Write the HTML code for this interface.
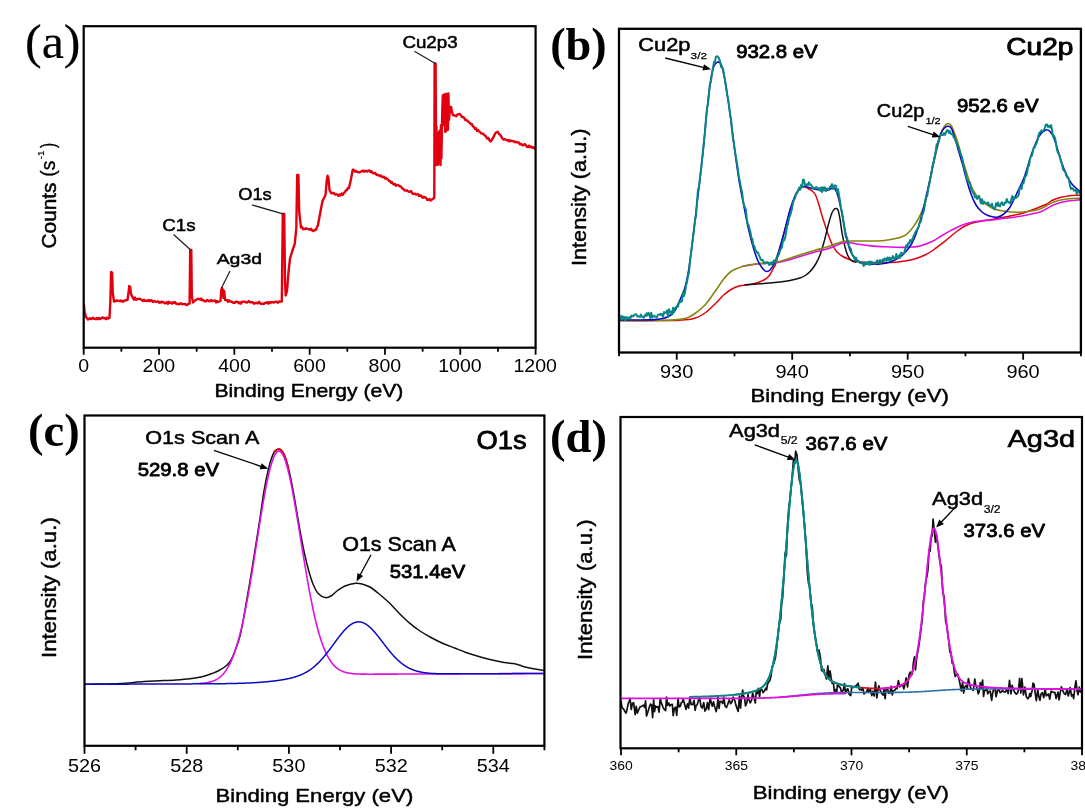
<!DOCTYPE html><html><head><meta charset="utf-8"><style>html,body{margin:0;padding:0;background:#fff;}svg{display:block;}</style></head><body>
<svg width="1085" height="810" viewBox="0 0 1085 810">
<rect width="1085" height="810" fill="#fff"/>
<defs><filter id="soft" x="0" y="0" width="1" height="1" color-interpolation-filters="sRGB"><feGaussianBlur stdDeviation="0.35"/></filter></defs>
<g filter="url(#soft)">
<rect width="1085" height="810" fill="#fff"/>
<path d="M84.00,305.00 L84.60,312.00 L86.00,317.00 L88.00,319.50 L89.00,318.83 L90.00,318.16 L91.00,319.11 L92.00,318.50 L93.00,317.65 L94.00,318.94 L95.00,318.70 L96.00,319.20 L97.00,318.09 L98.00,319.12 L99.00,317.94 L100.00,319.00 L101.00,318.67 L102.00,317.62 L103.00,317.49 L104.00,318.30 L105.00,318.19 L106.00,319.23 L107.00,317.62 L108.00,318.60 L109.50,318.00 L110.40,300.00 L111.10,272.00 L112.10,272.50 L112.80,293.00 L114.00,301.50 L117.00,300.50 L120.00,301.20 L121.00,300.39 L122.00,301.21 L123.00,301.82 L124.00,300.60 L125.17,300.59 L126.33,299.95 L127.50,300.00 L128.60,292.00 L129.30,286.00 L130.20,287.00 L131.00,294.00 L133.00,298.00 L134.00,299.47 L135.00,297.56 L136.00,299.84 L137.00,299.30 L138.00,298.98 L139.00,298.81 L140.00,298.92 L141.00,299.56 L142.00,300.20 L143.00,301.08 L144.00,299.68 L145.00,300.77 L146.00,301.03 L147.00,300.52 L148.00,301.06 L149.00,300.03 L150.00,301.20 L151.00,300.22 L152.00,300.65 L153.00,301.87 L154.00,301.35 L155.00,301.15 L156.00,301.89 L157.00,301.65 L158.00,301.36 L159.00,302.63 L160.00,302.00 L161.00,302.56 L162.00,301.55 L163.00,302.42 L164.00,302.38 L165.00,303.30 L166.00,303.03 L167.00,302.05 L168.00,303.79 L169.00,301.80 L170.00,302.80 L171.00,302.68 L172.00,303.58 L173.00,302.20 L174.00,303.09 L175.00,302.09 L176.00,303.68 L177.00,303.99 L178.00,303.62 L179.00,304.42 L180.00,303.60 L181.00,303.23 L182.00,304.22 L183.00,304.05 L184.00,304.09 L185.00,303.87 L186.00,304.87 L187.00,305.19 L188.00,304.20 L189.60,303.50 L190.20,250.00 L191.30,250.00 L191.80,296.00 L193.00,302.50 L195.00,300.50 L198.00,298.70 L199.00,298.90 L200.00,299.61 L201.00,298.43 L202.00,300.22 L203.00,300.00 L204.00,300.50 L205.00,301.47 L206.00,301.20 L207.00,300.05 L208.00,300.44 L209.00,301.26 L210.00,301.00 L211.00,299.98 L212.00,301.16 L213.00,300.58 L214.00,300.58 L215.00,300.57 L216.00,302.39 L217.00,300.99 L218.00,302.00 L220.50,301.00 L221.30,290.00 L222.00,288.00 L222.80,290.00 L223.40,298.00 L224.20,291.00 L225.00,300.00 L226.00,299.69 L227.00,300.34 L228.00,301.79 L229.00,300.19 L230.00,301.50 L231.00,301.48 L232.00,301.82 L233.00,302.72 L234.00,302.67 L235.00,302.87 L236.00,301.57 L237.00,302.00 L238.00,301.96 L239.00,303.32 L240.00,302.50 L241.00,303.58 L242.00,301.62 L243.00,301.66 L244.00,301.78 L245.00,301.76 L246.00,302.34 L247.00,302.57 L248.00,301.77 L249.00,301.13 L250.00,302.30 L251.00,302.18 L252.00,302.13 L253.00,302.67 L254.00,303.67 L255.00,303.11 L256.00,302.76 L257.00,303.07 L258.00,303.28 L259.00,301.86 L260.00,303.00 L261.00,303.98 L262.00,303.71 L263.00,303.96 L264.00,303.79 L265.00,302.84 L266.00,302.88 L267.00,302.19 L268.00,303.48 L269.00,302.13 L270.00,303.20 L271.00,302.11 L272.00,302.40 L273.00,302.24 L274.00,302.62 L275.00,301.88 L276.00,301.70 L277.00,302.01 L278.00,302.80 L279.27,301.41 L280.53,301.61 L281.80,301.50 L282.80,214.00 L284.20,214.00 L285.00,282.00 L285.70,295.50 L287.00,291.00 L288.50,272.00 L290.00,258.50 L292.00,252.00 L294.80,243.70 L296.30,228.00 L297.20,175.00 L298.40,175.00 L299.20,212.00 L301.00,227.60 L302.00,226.81 L303.00,229.20 L304.00,228.92 L305.00,229.00 L306.00,228.30 L307.00,228.69 L308.00,229.05 L309.00,229.23 L310.00,229.70 L311.16,228.85 L312.32,230.66 L313.48,231.06 L314.64,229.86 L315.80,230.00 L318.00,225.00 L320.00,214.00 L322.50,201.00 L325.50,195.00 L326.80,180.00 L327.60,175.80 L328.40,178.00 L329.50,190.00 L331.00,193.00 L332.00,193.34 L333.00,192.76 L334.00,193.17 L335.00,194.50 L336.10,194.32 L337.20,194.34 L338.30,195.89 L339.40,194.49 L340.50,195.50 L341.62,193.48 L342.75,194.83 L343.88,192.94 L345.00,192.00 L346.00,190.15 L347.00,190.10 L348.00,187.86 L349.00,188.00 L351.00,179.00 L352.80,169.60 L354.03,170.13 L355.27,171.68 L356.50,171.00 L357.67,172.27 L358.83,172.27 L360.00,172.20 L361.00,171.35 L362.00,171.32 L363.00,170.56 L364.00,171.73 L365.00,170.80 L366.07,170.94 L367.13,171.60 L368.20,170.59 L369.27,170.40 L370.33,171.88 L371.40,171.20 L372.60,172.96 L373.80,173.25 L375.00,173.00 L376.27,174.40 L377.53,175.10 L378.80,175.00 L379.83,176.16 L380.87,175.51 L381.90,176.79 L382.93,176.99 L383.97,176.79 L385.00,178.50 L386.00,177.87 L387.00,178.97 L388.00,179.42 L389.00,180.96 L390.00,181.00 L391.00,182.70 L392.00,182.07 L393.00,183.85 L394.00,184.57 L395.00,184.00 L396.06,185.72 L397.12,184.93 L398.19,185.20 L399.25,185.84 L400.31,186.40 L401.38,187.04 L402.44,188.67 L403.50,189.00 L404.58,190.39 L405.67,190.68 L406.75,190.25 L407.83,191.10 L408.92,191.89 L410.00,191.60 L411.00,191.02 L412.00,192.83 L413.00,193.84 L414.00,193.96 L415.00,193.70 L416.00,194.66 L417.00,194.37 L418.00,194.01 L419.00,195.83 L420.00,195.50 L421.00,195.50 L422.00,197.02 L423.00,197.83 L424.00,196.85 L425.00,197.50 L426.12,197.86 L427.24,199.77 L428.36,199.84 L429.48,199.11 L430.60,200.50 L433.40,198.50 L434.30,198.00 L434.60,63.50 L435.60,63.50 L435.90,120.00 L436.00,164.98 L436.45,126.51 L436.90,158.76 L437.35,133.07 L437.80,164.83 L438.25,133.27 L438.70,158.16 L439.15,131.57 L439.60,163.20 L440.05,130.49 L440.50,164.95 L440.95,125.14 L441.40,158.23 L441.85,131.50 L442.30,110.00 L442.80,96.00 L443.00,95.11 L443.45,124.66 L443.90,94.74 L444.35,125.28 L444.80,96.30 L445.25,131.89 L445.70,94.01 L446.15,131.07 L446.60,93.96 L447.05,128.14 L447.50,94.04 L447.95,129.81 L448.40,93.52 L449.00,120.00 L450.00,109.00 L451.00,106.80 L452.00,112.00 L453.00,115.00 L455.00,115.60 L456.20,116.27 L457.40,114.42 L458.60,114.29 L459.80,114.00 L460.87,115.22 L461.93,117.05 L463.00,117.00 L464.13,117.79 L465.27,120.09 L466.40,120.00 L467.60,121.00 L468.80,122.08 L470.00,123.00 L471.00,124.26 L472.00,124.15 L473.00,126.44 L474.00,126.98 L475.00,129.00 L476.00,128.31 L477.00,130.98 L478.00,129.95 L479.00,131.33 L480.00,132.00 L481.00,133.29 L482.00,133.55 L483.00,133.65 L484.00,134.85 L485.00,135.50 L486.14,136.84 L487.28,138.64 L488.42,138.08 L489.56,140.46 L490.70,141.50 L493.00,138.00 L495.50,133.00 L497.60,131.70 L499.00,134.00 L500.17,134.88 L501.33,136.49 L502.50,138.60 L503.60,139.59 L504.70,139.18 L505.80,139.60 L506.90,140.40 L508.00,140.00 L509.00,141.31 L510.00,140.33 L511.00,141.01 L512.00,140.97 L513.00,141.20 L514.00,141.49 L515.00,142.22 L516.00,141.86 L517.00,142.33 L518.00,142.50 L519.00,142.78 L520.00,144.31 L521.00,144.02 L522.00,144.81 L523.00,145.32 L524.00,144.50 L525.00,144.29 L526.00,145.49 L527.00,146.90 L528.00,147.05 L529.00,145.64 L530.00,147.00 L531.00,146.42 L532.00,147.65 L533.00,147.09 L534.00,147.93 L535.00,149.00" fill="none" stroke="#e2000e" stroke-width="2.40" stroke-linejoin="round" stroke-linecap="round"/>
<rect x="83.70" y="26.20" width="451.90" height="321.50" fill="none" stroke="#000" stroke-width="2.20"/>
<line x1="83.70" y1="347.70" x2="83.70" y2="354.70" stroke="#000" stroke-width="1.80"/>
<line x1="159.02" y1="347.70" x2="159.02" y2="354.70" stroke="#000" stroke-width="1.80"/>
<line x1="234.33" y1="347.70" x2="234.33" y2="354.70" stroke="#000" stroke-width="1.80"/>
<line x1="309.65" y1="347.70" x2="309.65" y2="354.70" stroke="#000" stroke-width="1.80"/>
<line x1="384.97" y1="347.70" x2="384.97" y2="354.70" stroke="#000" stroke-width="1.80"/>
<line x1="460.28" y1="347.70" x2="460.28" y2="354.70" stroke="#000" stroke-width="1.80"/>
<line x1="535.60" y1="347.70" x2="535.60" y2="354.70" stroke="#000" stroke-width="1.80"/>
<line x1="121.36" y1="347.70" x2="121.36" y2="351.70" stroke="#000" stroke-width="1.80"/>
<line x1="196.68" y1="347.70" x2="196.68" y2="351.70" stroke="#000" stroke-width="1.80"/>
<line x1="271.99" y1="347.70" x2="271.99" y2="351.70" stroke="#000" stroke-width="1.80"/>
<line x1="347.31" y1="347.70" x2="347.31" y2="351.70" stroke="#000" stroke-width="1.80"/>
<line x1="422.63" y1="347.70" x2="422.63" y2="351.70" stroke="#000" stroke-width="1.80"/>
<line x1="497.94" y1="347.70" x2="497.94" y2="351.70" stroke="#000" stroke-width="1.80"/>
<line x1="414.40" y1="51.20" x2="435.30" y2="63.50" stroke="#222" stroke-width="1.30"/>
<line x1="252.00" y1="204.90" x2="283.80" y2="214.10" stroke="#222" stroke-width="1.30"/>
<line x1="173.60" y1="234.50" x2="190.70" y2="250.10" stroke="#222" stroke-width="1.30"/>
<line x1="230.00" y1="271.00" x2="221.50" y2="288.00" stroke="#222" stroke-width="1.30"/>
<defs><clipPath id="cb"><rect x="619.0" y="28.8" width="461.9" height="323.7"/></clipPath></defs>
<g clip-path="url(#cb)">
<path d="M619.50,320.60 C626.25,320.60 649.92,320.67 660.00,320.60 C670.08,320.53 674.33,320.55 680.00,320.20 C685.67,319.85 689.83,319.70 694.00,318.50 C698.17,317.30 701.33,315.58 705.00,313.00 C708.67,310.42 712.83,306.03 716.00,303.00 C719.17,299.97 721.50,297.05 724.00,294.80 C726.50,292.55 728.33,291.00 731.00,289.50 C733.67,288.00 736.90,286.65 740.00,285.80 C743.10,284.95 746.60,284.95 749.60,284.40 C752.60,283.85 755.60,283.23 758.00,282.50 C760.40,281.77 762.17,281.08 764.00,280.00 C765.83,278.92 767.50,277.83 769.00,276.00 C770.50,274.17 771.83,271.17 773.00,269.00 C774.17,266.83 774.83,266.50 776.00,263.00 C777.17,259.50 778.50,253.58 780.00,248.00 C781.50,242.42 783.33,235.75 785.00,229.50 C786.67,223.25 788.33,216.00 790.00,210.50 C791.67,205.00 793.50,200.08 795.00,196.50 C796.50,192.92 797.67,190.67 799.00,189.00 C800.33,187.33 801.50,186.58 803.00,186.50 C804.50,186.42 806.50,187.75 808.00,188.50 C809.50,189.25 810.75,189.92 812.00,191.00 C813.25,192.08 814.33,192.67 815.50,195.00 C816.67,197.33 817.88,201.45 819.00,205.00 C820.12,208.55 821.03,212.47 822.20,216.30 C823.37,220.13 824.77,224.30 826.00,228.00 C827.23,231.70 828.43,235.50 829.60,238.50 C830.77,241.50 831.77,243.77 833.00,246.00 C834.23,248.23 835.50,250.23 837.00,251.90 C838.50,253.57 840.02,254.77 842.00,256.00 C843.98,257.23 846.52,258.37 848.90,259.30 C851.28,260.23 852.78,261.07 856.30,261.60 C859.82,262.13 865.00,262.30 870.00,262.50 C875.00,262.70 880.47,263.05 886.30,262.80 C892.13,262.55 899.88,261.77 905.00,261.00 C910.12,260.23 913.67,259.20 917.00,258.20 C920.33,257.20 922.40,256.28 925.00,255.00 C927.60,253.72 929.27,252.80 932.60,250.50 C935.93,248.20 940.88,244.45 945.00,241.20 C949.12,237.95 953.97,233.53 957.30,231.00 C960.63,228.47 962.43,227.33 965.00,226.00 C967.57,224.67 969.37,223.92 972.70,223.00 C976.03,222.08 981.40,221.17 985.00,220.50 C988.60,219.83 990.13,219.75 994.30,219.00 C998.47,218.25 1004.88,217.08 1010.00,216.00 C1015.12,214.92 1019.13,214.37 1025.00,212.50 C1030.87,210.63 1040.70,206.80 1045.20,204.80 C1049.70,202.80 1049.53,201.73 1052.00,200.50 C1054.47,199.27 1056.68,198.25 1060.00,197.40 C1063.32,196.55 1068.45,195.77 1071.90,195.40 C1075.35,195.03 1079.23,195.23 1080.70,195.20" fill="none" stroke="#e2000e" stroke-width="1.50" stroke-linejoin="round" stroke-linecap="round"/>
<path d="M745.00,284.80 C747.50,284.63 755.00,284.18 760.00,283.80 C765.00,283.42 770.00,283.05 775.00,282.50 C780.00,281.95 785.83,281.25 790.00,280.50 C794.17,279.75 797.33,278.92 800.00,278.00 C802.67,277.08 804.17,276.25 806.00,275.00 C807.83,273.75 809.33,272.42 811.00,270.50 C812.67,268.58 814.50,266.08 816.00,263.50 C817.50,260.92 818.67,258.58 820.00,255.00 C821.33,251.42 822.67,246.83 824.00,242.00 C825.33,237.17 826.75,230.67 828.00,226.00 C829.25,221.33 830.50,216.75 831.50,214.00 C832.50,211.25 833.25,210.42 834.00,209.50 C834.75,208.58 835.33,208.42 836.00,208.50 C836.67,208.58 837.33,208.25 838.00,210.00 C838.67,211.75 839.33,215.23 840.00,219.00 C840.67,222.77 841.17,227.93 842.00,232.60 C842.83,237.27 844.00,243.10 845.00,247.00 C846.00,250.90 846.83,253.67 848.00,256.00 C849.17,258.33 850.67,260.00 852.00,261.00 C853.33,262.00 855.33,261.83 856.00,262.00" fill="none" stroke="#111" stroke-width="1.50" stroke-linejoin="round" stroke-linecap="round"/>
<path d="M742.00,266.50 C744.50,266.08 752.67,264.55 757.00,264.00 C761.33,263.45 764.33,263.48 768.00,263.20 C771.67,262.92 775.00,263.00 779.00,262.30 C783.00,261.60 787.67,260.22 792.00,259.00 C796.33,257.78 801.17,256.17 805.00,255.00 C808.83,253.83 811.33,253.00 815.00,252.00 C818.67,251.00 823.50,250.08 827.00,249.00 C830.50,247.92 833.33,246.50 836.00,245.50 C838.67,244.50 840.67,243.45 843.00,243.00 C845.33,242.55 847.17,242.55 850.00,242.80 C852.83,243.05 856.52,243.98 860.00,244.50 C863.48,245.02 866.73,245.52 870.90,245.90 C875.07,246.28 879.87,246.55 885.00,246.80 C890.13,247.05 897.20,247.37 901.70,247.40 C906.20,247.43 908.95,247.25 912.00,247.00 C915.05,246.75 916.57,246.87 920.00,245.90 C923.43,244.93 928.93,242.93 932.60,241.20 C936.27,239.47 938.93,237.30 942.00,235.50 C945.07,233.70 948.00,231.98 951.00,230.40 C954.00,228.82 956.90,227.28 960.00,226.00 C963.10,224.72 966.27,223.53 969.60,222.70 C972.93,221.87 975.88,221.52 980.00,221.00 C984.12,220.48 988.13,220.32 994.30,219.60 C1000.47,218.88 1011.22,217.55 1017.00,216.70 C1022.78,215.85 1025.28,215.25 1029.00,214.50 C1032.72,213.75 1036.30,213.20 1039.30,212.20 C1042.30,211.20 1044.55,209.73 1047.00,208.50 C1049.45,207.27 1051.00,205.97 1054.00,204.80 C1057.00,203.63 1060.55,202.37 1065.00,201.50 C1069.45,200.63 1078.08,199.92 1080.70,199.60" fill="none" stroke="#e010e0" stroke-width="1.60" stroke-linejoin="round" stroke-linecap="round"/>
<path d="M619.50,320.60 C626.25,320.58 650.75,320.63 660.00,320.50 C669.25,320.37 670.55,320.22 675.00,319.80 C679.45,319.38 683.37,319.05 686.70,318.00 C690.03,316.95 691.95,315.67 695.00,313.50 C698.05,311.33 701.83,308.42 705.00,305.00 C708.17,301.58 710.88,297.33 714.00,293.00 C717.12,288.67 720.87,282.58 723.70,279.00 C726.53,275.42 728.53,273.33 731.00,271.50 C733.47,269.67 735.83,269.03 738.50,268.00 C741.17,266.97 743.92,266.02 747.00,265.30 C750.08,264.58 753.50,264.08 757.00,263.70 C760.50,263.32 764.33,263.37 768.00,263.00 C771.67,262.63 775.00,262.42 779.00,261.50 C783.00,260.58 787.67,258.88 792.00,257.50 C796.33,256.12 801.17,254.42 805.00,253.20 C808.83,251.98 811.33,251.23 815.00,250.20 C818.67,249.17 823.67,248.03 827.00,247.00 C830.33,245.97 832.33,244.92 835.00,244.00 C837.67,243.08 840.33,242.00 843.00,241.50 C845.67,241.00 848.17,241.08 851.00,241.00 C853.83,240.92 856.68,241.00 860.00,241.00 C863.32,241.00 866.90,241.08 870.90,241.00 C874.90,240.92 879.88,240.92 884.00,240.50 C888.12,240.08 892.27,239.25 895.60,238.50 C898.93,237.75 901.77,237.08 904.00,236.00 C906.23,234.92 907.40,233.60 909.00,232.00 C910.60,230.40 911.97,228.73 913.60,226.40 C915.23,224.07 917.40,220.57 918.80,218.00 C920.20,215.43 920.88,213.67 922.00,211.00 C923.12,208.33 924.28,206.50 925.50,202.00 C926.72,197.50 927.97,190.42 929.30,184.00 C930.63,177.58 931.92,170.50 933.50,163.50 C935.08,156.50 937.38,147.42 938.80,142.00 C940.22,136.58 940.97,133.75 942.00,131.00 C943.03,128.25 943.97,126.75 945.00,125.50 C946.03,124.25 947.12,123.42 948.20,123.50 C949.28,123.58 950.37,124.17 951.50,126.00 C952.63,127.83 954.03,132.00 955.00,134.50 C955.97,137.00 956.13,137.17 957.30,141.00 C958.47,144.83 960.47,152.25 962.00,157.50 C963.53,162.75 965.00,167.83 966.50,172.50 C968.00,177.17 969.45,181.83 971.00,185.50 C972.55,189.17 974.13,192.00 975.80,194.50 C977.47,197.00 978.97,198.67 981.00,200.50 C983.03,202.33 985.83,204.08 988.00,205.50 C990.17,206.92 991.17,208.05 994.00,209.00 C996.83,209.95 1001.17,210.67 1005.00,211.20 C1008.83,211.73 1013.17,212.15 1017.00,212.20 C1020.83,212.25 1024.28,211.98 1028.00,211.50 C1031.72,211.02 1036.13,210.30 1039.30,209.30 C1042.47,208.30 1044.55,206.73 1047.00,205.50 C1049.45,204.27 1051.00,202.93 1054.00,201.90 C1057.00,200.87 1060.55,199.93 1065.00,199.30 C1069.45,198.67 1078.08,198.30 1080.70,198.10" fill="none" stroke="#85850f" stroke-width="1.60" stroke-linejoin="round" stroke-linecap="round"/>
<path d="M619.50,320.00 C622.92,320.00 634.08,320.07 640.00,320.00 C645.92,319.93 651.00,319.88 655.00,319.60 C659.00,319.32 661.50,318.98 664.00,318.30 C666.50,317.62 668.17,316.80 670.00,315.50 C671.83,314.20 673.42,312.92 675.00,310.50 C676.58,308.08 678.25,303.75 679.50,301.00 C680.75,298.25 681.58,296.25 682.50,294.00 C683.42,291.75 684.08,290.83 685.00,287.50 C685.92,284.17 687.00,279.75 688.00,274.00 C689.00,268.25 690.00,260.50 691.00,253.00 C692.00,245.50 692.67,240.00 694.00,229.00 C695.33,218.00 697.50,199.83 699.00,187.00 C700.50,174.17 701.67,164.83 703.00,152.00 C704.33,139.17 705.72,122.00 707.00,110.00 C708.28,98.00 709.53,87.33 710.70,80.00 C711.87,72.67 712.87,69.00 714.00,66.00 C715.13,63.00 716.33,62.33 717.50,62.00 C718.67,61.67 719.92,61.83 721.00,64.00 C722.08,66.17 722.93,69.75 724.00,75.00 C725.07,80.25 726.23,87.83 727.40,95.50 C728.57,103.17 729.77,111.75 731.00,121.00 C732.23,130.25 733.47,141.17 734.80,151.00 C736.13,160.83 737.47,170.72 739.00,180.00 C740.53,189.28 742.42,198.53 744.00,206.70 C745.58,214.87 746.95,222.22 748.50,229.00 C750.05,235.78 751.72,242.07 753.30,247.40 C754.88,252.73 756.45,257.48 758.00,261.00 C759.55,264.52 761.22,266.75 762.60,268.50 C763.98,270.25 765.07,271.25 766.30,271.50 C767.53,271.75 768.55,271.58 770.00,270.00 C771.45,268.42 773.33,265.83 775.00,262.00 C776.67,258.17 778.33,252.50 780.00,247.00 C781.67,241.50 783.33,235.17 785.00,229.00 C786.67,222.83 788.33,215.50 790.00,210.00 C791.67,204.50 793.33,199.58 795.00,196.00 C796.67,192.42 798.33,190.08 800.00,188.50 C801.67,186.92 803.00,186.50 805.00,186.50 C807.00,186.50 809.50,187.92 812.00,188.50 C814.50,189.08 817.33,189.75 820.00,190.00 C822.67,190.25 825.67,190.33 828.00,190.00 C830.33,189.67 832.33,187.00 834.00,188.00 C835.67,189.00 836.67,191.67 838.00,196.00 C839.33,200.33 840.67,207.50 842.00,214.00 C843.33,220.50 844.67,229.00 846.00,235.00 C847.33,241.00 848.50,246.08 850.00,250.00 C851.50,253.92 853.17,256.37 855.00,258.50 C856.83,260.63 858.50,261.88 861.00,262.80 C863.50,263.72 866.83,263.80 870.00,264.00 C873.17,264.20 876.67,264.33 880.00,264.00 C883.33,263.67 886.67,263.17 890.00,262.00 C893.33,260.83 897.33,258.75 900.00,257.00 C902.67,255.25 904.08,253.67 906.00,251.50 C907.92,249.33 909.83,246.92 911.50,244.00 C913.17,241.08 914.75,237.17 916.00,234.00 C917.25,230.83 918.00,228.33 919.00,225.00 C920.00,221.67 920.98,218.00 922.00,214.00 C923.02,210.00 923.88,206.25 925.10,201.00 C926.32,195.75 927.90,189.00 929.30,182.50 C930.70,176.00 932.10,168.58 933.50,162.00 C934.90,155.42 936.45,147.83 937.70,143.00 C938.95,138.17 939.95,135.42 941.00,133.00 C942.05,130.58 942.90,129.63 944.00,128.50 C945.10,127.37 946.27,126.03 947.60,126.20 C948.93,126.37 950.13,125.25 952.00,129.50 C953.87,133.75 956.97,145.62 958.80,151.70 C960.63,157.78 961.72,161.37 963.00,166.00 C964.28,170.63 965.17,174.83 966.50,179.50 C967.83,184.17 969.42,189.75 971.00,194.00 C972.58,198.25 974.17,202.00 976.00,205.00 C977.83,208.00 980.00,210.25 982.00,212.00 C984.00,213.75 986.00,214.67 988.00,215.50 C990.00,216.33 992.43,216.72 994.00,217.00 C995.57,217.28 995.90,217.62 997.40,217.20 C998.90,216.78 1000.97,216.07 1003.00,214.50 C1005.03,212.93 1007.27,211.38 1009.60,207.80 C1011.93,204.22 1014.53,198.18 1017.00,193.00 C1019.47,187.82 1021.92,183.37 1024.40,176.70 C1026.88,170.03 1029.42,159.80 1031.90,153.00 C1034.38,146.20 1036.97,139.73 1039.30,135.90 C1041.63,132.07 1044.12,130.73 1045.90,130.00 C1047.68,129.27 1048.65,130.15 1050.00,131.50 C1051.35,132.85 1052.33,133.78 1054.00,138.10 C1055.67,142.42 1058.02,151.47 1060.00,157.40 C1061.98,163.33 1063.92,169.27 1065.90,173.70 C1067.88,178.13 1069.43,180.92 1071.90,184.00 C1074.37,187.08 1079.23,190.83 1080.70,192.20" fill="none" stroke="#0a0ac4" stroke-width="1.60" stroke-linejoin="round" stroke-linecap="round"/>
<path d="M619.50,317.35 L620.43,319.18 L621.36,315.67 L622.30,318.73 L623.23,316.71 L624.16,316.69 L625.09,320.13 L626.02,317.32 L626.95,316.99 L627.89,318.20 L628.82,318.82 L629.75,316.95 L630.68,317.92 L631.61,315.41 L632.55,316.36 L633.48,316.23 L634.41,314.78 L635.34,314.48 L636.27,314.27 L637.20,316.47 L638.14,316.56 L639.07,316.31 L640.00,316.91 L640.94,314.61 L641.88,316.57 L642.81,317.03 L643.75,317.80 L644.69,315.20 L645.62,315.86 L646.56,313.23 L647.50,315.59 L648.44,312.84 L649.38,314.03 L650.31,318.01 L651.25,312.68 L652.19,317.43 L653.12,316.62 L654.06,315.55 L655.00,316.73 L655.90,316.74 L656.80,317.47 L657.70,315.33 L658.60,314.65 L659.50,314.53 L660.40,313.82 L661.30,315.23 L662.20,313.94 L663.10,316.81 L664.00,312.01 L665.00,312.88 L666.00,312.72 L667.00,310.53 L668.00,316.54 L669.00,309.27 L670.00,312.30 L671.00,311.53 L672.00,314.65 L673.00,307.82 L674.00,311.71 L675.00,307.83 L676.00,307.75 L677.00,305.93 L678.00,306.52 L679.00,302.18 L680.00,302.37 L681.00,301.57 L682.00,301.44 L683.00,292.15 L684.00,295.94 L685.00,292.52 L686.00,285.56 L687.00,282.15 L688.00,276.25 L689.00,271.97 L690.00,262.00 L691.00,253.66 L692.00,245.64 L693.00,237.68 L694.00,229.72 L695.00,219.99 L696.00,216.09 L697.00,201.14 L698.00,189.83 L699.00,186.80 L700.00,177.77 L701.00,169.60 L702.00,159.67 L703.00,150.76 L704.00,141.03 L705.00,131.55 L706.00,118.78 L707.00,108.40 L707.92,104.60 L708.85,94.85 L709.78,84.92 L710.70,82.72 L711.80,75.24 L712.90,68.06 L714.00,62.12 L715.00,61.48 L716.00,56.67 L717.50,56.31 L718.75,57.93 L720.00,61.19 L721.00,66.77 L722.00,67.31 L723.00,68.68 L724.00,75.07 L725.13,80.77 L726.27,88.68 L727.40,95.92 L728.30,100.48 L729.20,107.27 L730.10,114.18 L731.00,119.18 L731.95,129.32 L732.90,137.70 L733.85,143.03 L734.80,149.62 L735.85,156.58 L736.90,162.75 L737.95,169.71 L739.00,177.36 L740.00,182.05 L741.00,188.10 L742.00,191.68 L743.00,200.16 L744.00,205.08 L744.90,207.36 L745.80,209.72 L746.70,217.59 L747.60,223.57 L748.50,224.83 L749.46,228.83 L750.42,232.29 L751.38,237.85 L752.34,238.93 L753.30,245.58 L754.24,245.72 L755.18,249.88 L756.12,250.65 L757.06,252.43 L758.00,252.63 L758.92,255.10 L759.84,256.98 L760.76,259.66 L761.68,260.19 L762.60,259.89 L763.70,262.16 L764.80,263.58 L765.90,262.26 L767.00,262.30 L768.00,262.57 L769.00,264.70 L770.00,264.46 L771.00,262.31 L772.00,264.60 L773.00,262.03 L774.00,260.40 L775.00,262.38 L776.00,260.51 L777.00,256.84 L778.00,255.88 L779.00,254.30 L780.00,250.23 L781.00,248.81 L782.00,247.07 L783.00,240.14 L784.00,240.52 L785.00,238.18 L786.00,233.41 L787.00,226.05 L788.00,224.31 L789.00,218.02 L790.00,215.91 L791.00,212.37 L792.00,208.15 L793.00,202.98 L794.00,199.65 L795.00,198.37 L796.00,193.36 L797.00,193.39 L798.00,191.22 L799.00,187.75 L800.00,189.83 L801.00,185.11 L802.00,187.43 L803.00,179.77 L804.00,179.81 L805.00,185.37 L806.00,185.22 L807.00,184.10 L808.00,184.91 L809.00,182.38 L810.00,184.85 L811.00,184.63 L812.00,186.36 L813.00,188.56 L814.00,187.66 L815.00,188.59 L816.00,187.03 L817.00,187.59 L818.00,188.61 L819.00,188.12 L820.00,190.74 L821.00,187.46 L822.00,192.03 L823.00,187.31 L824.00,190.45 L825.00,187.39 L826.00,191.14 L827.00,188.59 L828.00,188.89 L829.00,189.32 L830.00,186.98 L831.00,186.00 L832.00,184.09 L833.00,188.95 L834.00,185.55 L835.00,185.39 L836.00,185.95 L837.00,192.18 L838.00,189.23 L839.00,195.40 L840.00,200.70 L841.00,208.52 L842.00,211.12 L843.00,218.61 L844.00,225.84 L845.00,232.24 L846.00,237.55 L847.00,237.38 L848.00,242.59 L849.00,246.07 L850.00,247.80 L851.00,249.40 L852.00,254.61 L853.00,255.49 L854.00,256.57 L855.00,260.45 L856.00,257.61 L857.00,260.78 L858.00,260.67 L859.00,261.27 L860.00,262.87 L861.00,263.08 L861.90,263.25 L862.80,263.26 L863.70,265.96 L864.60,262.38 L865.50,264.52 L866.40,263.89 L867.30,262.38 L868.20,264.23 L869.10,261.61 L870.00,264.86 L870.91,261.57 L871.82,261.94 L872.73,263.11 L873.64,263.79 L874.55,263.77 L875.45,263.61 L876.36,261.71 L877.27,260.38 L878.18,262.65 L879.09,262.12 L880.00,259.98 L880.91,262.88 L881.82,261.45 L882.73,259.42 L883.64,261.48 L884.55,258.47 L885.45,259.01 L886.36,260.87 L887.27,257.55 L888.18,259.92 L889.09,257.52 L890.00,260.68 L890.91,257.97 L891.82,259.06 L892.73,256.01 L893.64,257.49 L894.55,259.20 L895.45,258.05 L896.36,254.01 L897.27,258.07 L898.18,257.65 L899.09,255.26 L900.00,257.77 L900.91,252.74 L901.83,253.24 L902.74,254.09 L903.65,253.35 L904.56,252.24 L905.47,247.37 L906.39,245.21 L907.30,247.63 L908.25,243.04 L909.20,243.46 L910.15,239.95 L911.10,242.03 L912.05,239.95 L913.00,237.89 L913.97,235.19 L914.93,233.41 L915.90,231.02 L916.87,230.28 L917.83,228.23 L918.80,226.73 L919.87,221.65 L920.93,221.70 L922.00,215.45 L923.03,213.56 L924.07,209.80 L925.10,202.59 L926.15,196.30 L927.20,196.01 L928.25,188.38 L929.30,184.13 L930.35,178.34 L931.40,173.71 L932.45,166.35 L933.50,162.83 L934.55,157.26 L935.60,152.98 L936.65,144.26 L937.70,144.31 L938.80,141.20 L939.90,135.57 L941.00,134.83 L942.00,135.05 L943.00,135.01 L944.00,133.00 L945.00,134.84 L946.00,132.29 L947.00,130.27 L948.00,130.42 L948.94,132.99 L949.88,131.12 L950.82,133.75 L951.76,134.33 L952.70,133.94 L953.72,137.46 L954.73,138.39 L955.75,141.48 L956.77,143.39 L957.78,146.19 L958.80,147.50 L959.85,152.36 L960.90,154.79 L961.95,157.47 L963.00,163.23 L964.17,168.06 L965.33,171.12 L966.50,178.19 L967.40,179.91 L968.30,182.47 L969.20,182.23 L970.10,183.21 L971.00,188.89 L972.00,190.29 L973.00,192.76 L974.00,194.07 L975.00,197.22 L976.00,196.54 L977.00,198.90 L978.00,197.23 L979.00,195.81 L980.00,199.62 L981.00,203.56 L982.00,199.32 L983.00,203.96 L984.00,201.58 L985.00,202.36 L986.00,203.40 L987.00,204.01 L988.00,202.44 L989.00,204.45 L990.00,205.21 L991.00,206.09 L992.00,203.79 L993.00,207.73 L994.00,208.55 L995.00,209.36 L996.00,203.35 L997.00,205.78 L998.00,202.53 L999.00,206.11 L1000.00,206.39 L1000.96,203.30 L1001.92,202.24 L1002.88,204.72 L1003.84,205.06 L1004.80,202.43 L1005.76,202.92 L1006.72,198.94 L1007.68,201.49 L1008.64,202.50 L1009.60,202.14 L1010.52,203.70 L1011.45,198.60 L1012.38,196.08 L1013.30,199.67 L1014.23,197.27 L1015.15,197.93 L1016.08,197.89 L1017.00,196.96 L1017.92,196.26 L1018.85,194.06 L1019.78,187.19 L1020.70,187.70 L1021.62,188.95 L1022.55,183.05 L1023.48,183.20 L1024.40,179.51 L1025.34,175.78 L1026.28,175.83 L1027.21,171.82 L1028.15,166.61 L1029.09,165.30 L1030.03,158.60 L1030.96,156.39 L1031.90,155.84 L1032.83,151.87 L1033.75,147.53 L1034.67,147.36 L1035.60,144.58 L1036.53,143.52 L1037.45,140.41 L1038.38,135.85 L1039.30,132.93 L1040.40,132.00 L1041.50,130.38 L1042.60,131.61 L1043.70,130.34 L1044.80,128.07 L1045.90,124.61 L1046.94,124.37 L1047.98,126.96 L1049.02,125.72 L1050.06,127.42 L1051.10,125.13 L1052.08,130.32 L1053.07,136.50 L1054.05,135.76 L1055.03,138.21 L1056.02,143.54 L1057.00,149.67 L1058.00,153.04 L1059.00,153.86 L1060.00,157.39 L1061.00,161.69 L1062.00,164.09 L1063.00,169.36 L1063.98,170.79 L1064.97,170.87 L1065.95,174.27 L1066.93,176.76 L1067.92,177.76 L1068.90,179.31 L1069.90,185.01 L1070.90,189.07 L1071.90,188.04 L1072.88,188.48 L1073.86,190.61 L1074.83,190.10 L1075.81,189.87 L1076.79,194.00 L1077.77,190.77 L1078.74,191.92 L1079.72,192.68 L1080.70,194.40" fill="none" stroke="#0a8585" stroke-width="2.00" stroke-linejoin="round" stroke-linecap="round"/>
</g>
<rect x="619.00" y="28.80" width="461.90" height="323.70" fill="none" stroke="#000" stroke-width="2.30"/>
<line x1="676.74" y1="352.50" x2="676.74" y2="359.70" stroke="#000" stroke-width="1.80"/>
<line x1="792.21" y1="352.50" x2="792.21" y2="359.70" stroke="#000" stroke-width="1.80"/>
<line x1="907.69" y1="352.50" x2="907.69" y2="359.70" stroke="#000" stroke-width="1.80"/>
<line x1="1023.16" y1="352.50" x2="1023.16" y2="359.70" stroke="#000" stroke-width="1.80"/>
<line x1="619.00" y1="352.50" x2="619.00" y2="356.30" stroke="#000" stroke-width="1.80"/>
<line x1="734.48" y1="352.50" x2="734.48" y2="356.30" stroke="#000" stroke-width="1.80"/>
<line x1="849.95" y1="352.50" x2="849.95" y2="356.30" stroke="#000" stroke-width="1.80"/>
<line x1="965.43" y1="352.50" x2="965.43" y2="356.30" stroke="#000" stroke-width="1.80"/>
<line x1="1080.90" y1="352.50" x2="1080.90" y2="356.30" stroke="#000" stroke-width="1.80"/>
<line x1="665.20" y1="58.00" x2="704.20" y2="67.54" stroke="#000" stroke-width="1.30"/>
<path d="M711.00,69.20 L702.47,70.41 L703.99,64.19 Z" fill="#000"/>
<line x1="907.90" y1="126.40" x2="933.65" y2="134.82" stroke="#000" stroke-width="1.30"/>
<path d="M940.30,137.00 L931.70,137.55 L933.69,131.47 Z" fill="#000"/>
<defs><clipPath id="cc"><rect x="84.5" y="415.5" width="459.9" height="330.3"/></clipPath></defs>
<g clip-path="url(#cc)">
<path d="M84.50,684.20 C87.08,684.17 94.08,684.12 100.00,684.00 C105.92,683.88 112.67,683.92 120.00,683.50 C127.33,683.08 137.33,681.95 144.00,681.50 C150.67,681.05 154.67,681.05 160.00,680.80 C165.33,680.55 171.00,680.33 176.00,680.00 C181.00,679.67 185.67,679.33 190.00,678.80 C194.33,678.27 198.33,677.68 202.00,676.80 C205.67,675.92 209.33,674.47 212.00,673.50 C214.67,672.53 215.67,672.25 218.00,671.00 C220.33,669.75 223.87,667.75 226.00,666.00 C228.13,664.25 229.30,663.00 230.80,660.50 C232.30,658.00 233.38,655.42 235.00,651.00 C236.62,646.58 238.83,640.83 240.50,634.00 C242.17,627.17 243.42,618.83 245.00,610.00 C246.58,601.17 248.33,591.00 250.00,581.00 C251.67,571.00 253.38,560.13 255.00,550.00 C256.62,539.87 258.20,530.03 259.70,520.20 C261.20,510.37 262.40,500.08 264.00,491.00 C265.60,481.92 267.63,472.12 269.30,465.70 C270.97,459.28 272.38,455.23 274.00,452.50 C275.62,449.77 277.33,448.97 279.00,449.30 C280.67,449.63 282.40,451.23 284.00,454.50 C285.60,457.77 287.10,462.98 288.60,468.90 C290.10,474.82 291.40,481.45 293.00,490.00 C294.60,498.55 296.87,512.53 298.20,520.20 C299.53,527.87 299.93,530.37 301.00,536.00 C302.07,541.63 303.30,548.17 304.60,554.00 C305.90,559.83 307.40,566.00 308.80,571.00 C310.20,576.00 311.43,580.25 313.00,584.00 C314.57,587.75 316.15,591.23 318.20,593.50 C320.25,595.77 323.17,597.18 325.30,597.60 C327.43,598.02 329.05,597.10 331.00,596.00 C332.95,594.90 334.67,592.67 337.00,591.00 C339.33,589.33 341.87,587.30 345.00,586.00 C348.13,584.70 352.97,583.53 355.80,583.20 C358.63,582.87 359.65,583.37 362.00,584.00 C364.35,584.63 367.23,585.50 369.90,587.00 C372.57,588.50 374.87,590.45 378.00,593.00 C381.13,595.55 385.20,598.97 388.70,602.30 C392.20,605.63 395.47,609.48 399.00,613.00 C402.53,616.52 406.40,620.40 409.90,623.40 C413.40,626.40 416.48,628.65 420.00,631.00 C423.52,633.35 427.33,635.50 431.00,637.50 C434.67,639.50 438.08,641.25 442.00,643.00 C445.92,644.75 450.50,646.42 454.50,648.00 C458.50,649.58 462.08,651.12 466.00,652.50 C469.92,653.88 474.00,655.13 478.00,656.30 C482.00,657.47 486.08,658.55 490.00,659.50 C493.92,660.45 498.50,661.42 501.50,662.00 C504.50,662.58 506.03,662.73 508.00,663.00 C509.97,663.27 511.47,663.27 513.30,663.60 C515.13,663.93 517.05,664.45 519.00,665.00 C520.95,665.55 522.33,666.23 525.00,666.90 C527.67,667.57 531.83,668.42 535.00,669.00 C538.17,669.58 542.50,670.17 544.00,670.40" fill="none" stroke="#111" stroke-width="1.50" stroke-linejoin="round" stroke-linecap="round"/>
<path d="M274.00,451.90 C274.83,451.37 277.33,448.37 279.00,448.70 C280.67,449.03 282.40,450.63 284.00,453.90 C285.60,457.17 287.83,465.90 288.60,468.30" fill="none" stroke="#e2000e" stroke-width="1.60" stroke-linejoin="round" stroke-linecap="round"/>
<path d="M200.00,683.45 L200.50,683.41 L201.00,683.38 L201.50,683.33 L202.00,683.29 L202.50,683.24 L203.00,683.19 L203.50,683.14 L204.00,683.08 L204.50,683.02 L205.00,682.96 L205.50,682.89 L206.00,682.81 L206.50,682.73 L207.00,682.65 L207.50,682.56 L208.00,682.46 L208.50,682.36 L209.00,682.25 L209.50,682.13 L210.00,682.00 L210.50,681.87 L211.00,681.73 L211.50,681.58 L212.00,681.42 L212.50,681.25 L213.00,681.07 L213.50,680.87 L214.00,680.67 L214.50,680.45 L215.00,680.23 L215.50,679.98 L216.00,679.73 L216.50,679.46 L217.00,679.17 L217.50,678.87 L218.00,678.55 L218.50,678.21 L219.00,677.86 L219.50,677.48 L220.00,677.09 L220.50,676.67 L221.00,676.23 L221.50,675.77 L222.00,675.29 L222.50,674.78 L223.00,674.24 L223.50,673.68 L224.00,673.10 L224.50,672.48 L225.00,671.84 L225.50,671.16 L226.00,670.45 L226.50,669.71 L227.00,668.94 L227.50,668.13 L228.00,667.29 L228.50,666.41 L229.00,665.50 L229.50,664.55 L230.00,663.55 L230.50,662.52 L231.00,661.44 L231.50,660.33 L232.00,659.17 L232.50,657.96 L233.00,656.71 L233.50,655.42 L234.00,654.07 L234.50,652.68 L235.00,651.25 L235.50,649.76 L236.00,648.22 L236.50,646.64 L237.00,645.00 L237.50,643.31 L238.00,641.57 L238.50,639.77 L239.00,637.93 L239.50,636.03 L240.00,634.08 L240.50,632.07 L241.00,630.01 L241.50,627.90 L242.00,625.74 L242.50,623.52 L243.00,621.25 L243.50,618.92 L244.00,616.55 L244.50,614.12 L245.00,611.65 L245.50,609.12 L246.00,606.55 L246.50,603.93 L247.00,601.26 L247.50,598.54 L248.00,595.78 L248.50,592.98 L249.00,590.14 L249.50,587.26 L250.00,584.34 L250.50,581.39 L251.00,578.40 L251.50,575.38 L252.00,572.33 L252.50,569.25 L253.00,566.15 L253.50,563.03 L254.00,559.89 L254.50,556.73 L255.00,553.56 L255.50,550.38 L256.00,547.19 L256.50,543.99 L257.00,540.80 L257.50,537.61 L258.00,534.42 L258.50,531.24 L259.00,528.07 L259.50,524.92 L260.00,521.79 L260.50,518.68 L261.00,515.60 L261.50,512.55 L262.00,509.53 L262.50,506.55 L263.00,503.61 L263.50,500.72 L264.00,497.88 L264.50,495.09 L265.00,492.35 L265.50,489.68 L266.00,487.07 L266.50,484.52 L267.00,482.05 L267.50,479.65 L268.00,477.32 L268.50,475.08 L269.00,472.92 L269.50,470.85 L270.00,468.87 L270.50,466.98 L271.00,465.18 L271.50,463.49 L272.00,461.89 L272.50,460.40 L273.00,459.01 L273.50,457.72 L274.00,456.55 L274.50,455.49 L275.00,454.54 L275.50,453.70 L276.00,452.97 L276.50,452.37 L277.00,451.87 L277.50,451.50 L278.00,451.24 L278.50,451.10 L279.00,451.08 L279.50,451.18 L280.00,451.40 L280.50,451.73 L281.00,452.18 L281.50,452.74 L282.00,453.42 L282.50,454.22 L283.00,455.13 L283.50,456.15 L284.00,457.27 L284.50,458.51 L285.00,459.85 L285.50,461.30 L286.00,462.85 L286.50,464.49 L287.00,466.24 L287.50,468.07 L288.00,470.00 L288.50,472.02 L289.00,474.12 L289.50,476.30 L290.00,478.57 L290.50,480.91 L291.00,483.32 L291.50,485.80 L292.00,488.34 L292.50,490.95 L293.00,493.62 L293.50,496.34 L294.00,499.11 L294.50,501.93 L295.00,504.79 L295.50,507.69 L296.00,510.63 L296.50,513.60 L297.00,516.60 L297.50,519.63 L298.00,522.68 L298.50,525.74 L299.00,528.82 L299.50,531.92 L300.00,535.01 L300.50,538.12 L301.00,541.22 L301.50,544.32 L302.00,547.42 L302.50,550.51 L303.00,553.58 L303.50,556.65 L304.00,559.69 L304.50,562.71 L305.00,565.72 L305.50,568.69 L306.00,571.64 L306.50,574.56 L307.00,577.45 L307.50,580.31 L308.00,583.13 L308.50,585.91 L309.00,588.65 L309.50,591.35 L310.00,594.01 L310.50,596.62 L311.00,599.19 L311.50,601.71 L312.00,604.19 L312.50,606.62 L313.00,608.99 L313.50,611.32 L314.00,613.60 L314.50,615.83 L315.00,618.00 L315.50,620.12 L316.00,622.19 L316.50,624.21 L317.00,626.18 L317.50,628.09 L318.00,629.96 L318.50,631.77 L319.00,633.52 L319.50,635.23 L320.00,636.89 L320.50,638.49 L321.00,640.05 L321.50,641.55 L322.00,643.01 L322.50,644.42 L323.00,645.78 L323.50,647.09 L324.00,648.36 L324.50,649.58 L325.00,650.75 L325.50,651.89 L326.00,652.98 L326.50,654.03 L327.00,655.04 L327.50,656.00 L328.00,656.93 L328.50,657.83 L329.00,658.68 L329.50,659.50 L330.00,660.28 L330.50,661.03 L331.00,661.75 L331.50,662.43 L332.00,663.09 L332.50,663.71 L333.00,664.31 L333.50,664.87 L334.00,665.41 L334.50,665.93 L335.00,666.42 L335.50,666.88 L336.00,667.32 L336.50,667.74 L337.00,668.14 L337.50,668.52 L338.00,668.87 L338.50,669.21 L339.00,669.53 L339.50,669.83 L340.00,670.12 L340.50,670.39 L341.00,670.64 L341.50,670.88 L342.00,671.11 L342.50,671.32 L343.00,671.52 L343.50,671.71 L344.00,671.89 L344.50,672.06 L345.00,672.21 L345.50,672.36 L346.00,672.50 L346.50,672.62 L347.00,672.74 L347.50,672.86 L348.00,672.96 L348.50,673.06 L349.00,673.15 L349.50,673.23 L350.00,673.31 L350.50,673.39 L351.00,673.46 L351.50,673.52 L352.00,673.58 L352.50,673.63 L353.00,673.68 L353.50,673.73 L354.00,673.77 L354.50,673.81 L355.00,673.85 L355.50,673.88 L356.00,673.91 L356.50,673.94 L357.00,673.97 L357.50,673.99 L358.00,674.01 L358.50,674.03 L359.00,674.05 L359.50,674.07 L360.00,674.08 L360.50,674.09 L361.00,674.11 L361.50,674.12 L362.00,674.13 L362.50,674.14 L363.00,674.14 L363.50,674.15 L364.00,674.16 L364.50,674.16 L365.00,674.16 L365.50,674.17 L366.00,674.17 L366.50,674.17 L367.00,674.18 L367.50,674.18 L368.00,674.18 L368.50,674.18 L369.00,674.18 L369.50,674.18 L370.00,674.18 L370.50,674.18 L371.00,674.18 L371.50,674.18 L372.00,674.18 L372.50,674.18 L373.00,674.18 L373.50,674.18 L374.00,674.17 L374.50,674.17 L375.00,674.17 L375.50,674.17 L376.00,674.17 L376.50,674.17 L377.00,674.16 L377.50,674.16 L378.00,674.16 L378.50,674.16 L379.00,674.16 L379.50,674.15 L380.00,674.15 L380.50,674.15 L381.00,674.15 L381.50,674.14 L382.00,674.14 L382.50,674.14 L383.00,674.14 L383.50,674.14 L384.00,674.13 L384.50,674.13 L385.00,674.13 L385.50,674.13 L386.00,674.12 L386.50,674.12 L387.00,674.12 L387.50,674.12 L388.00,674.12 L388.50,674.11 L389.00,674.11 L389.50,674.11 L390.00,674.11 L390.50,674.10 L391.00,674.10 L391.50,674.10 L392.00,674.10 L392.50,674.10 L393.00,674.09 L393.50,674.09 L394.00,674.09 L394.50,674.09 L395.00,674.09 L395.50,674.08 L396.00,674.08 L396.50,674.08 L397.00,674.08 L397.50,674.08 L398.00,674.07 L398.50,674.07 L399.00,674.07 L399.50,674.07 L400.00,674.06 L400.50,674.06 L401.00,674.06 L401.50,674.06 L402.00,674.06 L402.50,674.05 L403.00,674.05 L403.50,674.05 L404.00,674.05 L404.50,674.05 L405.00,674.04 L405.50,674.04 L406.00,674.04 L406.50,674.04 L407.00,674.04 L407.50,674.03 L408.00,674.03 L408.50,674.03 L409.00,674.03 L409.50,674.03 L410.00,674.02 L410.50,674.02 L411.00,674.02 L411.50,674.02 L412.00,674.02 L412.50,674.01 L413.00,674.01 L413.50,674.01 L414.00,674.01 L414.50,674.01 L415.00,674.00 L415.50,674.00 L416.00,674.00 L416.50,674.00 L417.00,674.00 L417.50,674.00 L418.00,673.99 L418.50,673.99 L419.00,673.99 L419.50,673.99 L420.00,673.99 L420.50,673.98 L421.00,673.98 L421.50,673.98 L422.00,673.98 L422.50,673.98 L423.00,673.97 L423.50,673.97 L424.00,673.97 L424.50,673.97 L425.00,673.97 L425.50,673.96 L426.00,673.96 L426.50,673.96 L427.00,673.96 L427.50,673.96 L428.00,673.95 L428.50,673.95 L429.00,673.95 L429.50,673.95 L430.00,673.95 L430.50,673.94 L431.00,673.94 L431.50,673.94 L432.00,673.94 L432.50,673.94 L433.00,673.93 L433.50,673.93 L434.00,673.93 L434.50,673.93 L435.00,673.93 L435.50,673.92 L436.00,673.92 L436.50,673.92 L437.00,673.92 L437.50,673.92 L438.00,673.91 L438.50,673.91 L439.00,673.91 L439.50,673.91 L440.00,673.91 L440.50,673.91 L441.00,673.90 L441.50,673.90 L442.00,673.90 L442.50,673.90 L443.00,673.90 L443.50,673.89 L444.00,673.89 L444.50,673.89 L445.00,673.89 L445.50,673.89 L446.00,673.88 L446.50,673.88 L447.00,673.88 L447.50,673.88 L448.00,673.88 L448.50,673.87 L449.00,673.87 L449.50,673.87 L450.00,673.87 L450.50,673.87 L451.00,673.86 L451.50,673.86 L452.00,673.86 L452.50,673.86 L453.00,673.86 L453.50,673.85 L454.00,673.85 L454.50,673.85 L455.00,673.85 L455.50,673.85 L456.00,673.84 L456.50,673.84 L457.00,673.84 L457.50,673.84 L458.00,673.84 L458.50,673.83 L459.00,673.83 L459.50,673.83 L460.00,673.83 L460.50,673.83 L461.00,673.82 L461.50,673.82 L462.00,673.82 L462.50,673.82 L463.00,673.82 L463.50,673.82 L464.00,673.81 L464.50,673.81 L465.00,673.81 L465.50,673.81 L466.00,673.81 L466.50,673.80 L467.00,673.80 L467.50,673.80 L468.00,673.80 L468.50,673.80 L469.00,673.79 L469.50,673.79 L470.00,673.79 L470.50,673.79 L471.00,673.79 L471.50,673.78 L472.00,673.78 L472.50,673.78 L473.00,673.78 L473.50,673.78 L474.00,673.77 L474.50,673.77 L475.00,673.77 L475.50,673.77 L476.00,673.77 L476.50,673.76 L477.00,673.76 L477.50,673.76 L478.00,673.76 L478.50,673.76 L479.00,673.75 L479.50,673.75 L480.00,673.75 L480.50,673.75 L481.00,673.75 L481.50,673.74 L482.00,673.74 L482.50,673.74 L483.00,673.74 L483.50,673.74 L484.00,673.73 L484.50,673.73 L485.00,673.73 L485.50,673.73 L486.00,673.73 L486.50,673.73 L487.00,673.72 L487.50,673.72 L488.00,673.72 L488.50,673.72 L489.00,673.72 L489.50,673.71 L490.00,673.71 L490.50,673.71 L491.00,673.71 L491.50,673.71 L492.00,673.70 L492.50,673.70 L493.00,673.70 L493.50,673.70 L494.00,673.70 L494.50,673.69 L495.00,673.69 L495.50,673.69 L496.00,673.69 L496.50,673.69 L497.00,673.68 L497.50,673.68 L498.00,673.68 L498.50,673.68 L499.00,673.68 L499.50,673.67 L500.00,673.67 L500.50,673.67 L501.00,673.67 L501.50,673.67 L502.00,673.66 L502.50,673.66 L503.00,673.66 L503.50,673.66 L504.00,673.66 L504.50,673.65 L505.00,673.65 L505.50,673.65 L506.00,673.65 L506.50,673.65 L507.00,673.64 L507.50,673.64 L508.00,673.64 L508.50,673.64 L509.00,673.64 L509.50,673.64 L510.00,673.63 L510.50,673.63 L511.00,673.63 L511.50,673.63 L512.00,673.63 L512.50,673.62 L513.00,673.62 L513.50,673.62 L514.00,673.62 L514.50,673.62 L515.00,673.61 L515.50,673.61 L516.00,673.61 L516.50,673.61 L517.00,673.61 L517.50,673.60 L518.00,673.60 L518.50,673.60 L519.00,673.60 L519.50,673.60 L520.00,673.59 L520.50,673.59 L521.00,673.59 L521.50,673.59 L522.00,673.59 L522.50,673.58 L523.00,673.58 L523.50,673.58 L524.00,673.58 L524.50,673.58 L525.00,673.57 L525.50,673.57 L526.00,673.57 L526.50,673.57 L527.00,673.57 L527.50,673.56 L528.00,673.56 L528.50,673.56 L529.00,673.56 L529.50,673.56 L530.00,673.55 L530.50,673.55 L531.00,673.55 L531.50,673.55 L532.00,673.55 L532.50,673.54 L533.00,673.54 L533.50,673.54 L534.00,673.54 L534.50,673.54 L535.00,673.54 L535.50,673.53 L536.00,673.53 L536.50,673.53 L537.00,673.53 L537.50,673.53 L538.00,673.52 L538.50,673.52 L539.00,673.52 L539.50,673.52 L540.00,673.52 L540.50,673.51 L541.00,673.51 L541.50,673.51 L542.00,673.51 L542.50,673.51 L543.00,673.50 L543.50,673.50 L544.00,673.50" fill="none" stroke="#e010e0" stroke-width="1.60" stroke-linejoin="round" stroke-linecap="round"/>
<path d="M84.50,684.30 L85.00,684.30 L85.50,684.29 L86.00,684.29 L86.50,684.29 L87.00,684.29 L87.50,684.29 L88.00,684.28 L88.50,684.28 L89.00,684.28 L89.50,684.28 L90.00,684.28 L90.50,684.27 L91.00,684.27 L91.50,684.27 L92.00,684.27 L92.50,684.27 L93.00,684.26 L93.50,684.26 L94.00,684.26 L94.50,684.26 L95.00,684.26 L95.50,684.25 L96.00,684.25 L96.50,684.25 L97.00,684.25 L97.50,684.25 L98.00,684.25 L98.50,684.24 L99.00,684.24 L99.50,684.24 L100.00,684.24 L100.50,684.24 L101.00,684.23 L101.50,684.23 L102.00,684.23 L102.50,684.23 L103.00,684.23 L103.50,684.22 L104.00,684.22 L104.50,684.22 L105.00,684.22 L105.50,684.22 L106.00,684.21 L106.50,684.21 L107.00,684.21 L107.50,684.21 L108.00,684.21 L108.50,684.20 L109.00,684.20 L109.50,684.20 L110.00,684.20 L110.50,684.20 L111.00,684.19 L111.50,684.19 L112.00,684.19 L112.50,684.19 L113.00,684.19 L113.50,684.18 L114.00,684.18 L114.50,684.18 L115.00,684.18 L115.50,684.18 L116.00,684.17 L116.50,684.17 L117.00,684.17 L117.50,684.17 L118.00,684.17 L118.50,684.16 L119.00,684.16 L119.50,684.16 L120.00,684.16 L120.50,684.16 L121.00,684.16 L121.50,684.15 L122.00,684.15 L122.50,684.15 L123.00,684.15 L123.50,684.15 L124.00,684.14 L124.50,684.14 L125.00,684.14 L125.50,684.14 L126.00,684.14 L126.50,684.13 L127.00,684.13 L127.50,684.13 L128.00,684.13 L128.50,684.13 L129.00,684.12 L129.50,684.12 L130.00,684.12 L130.50,684.12 L131.00,684.12 L131.50,684.11 L132.00,684.11 L132.50,684.11 L133.00,684.11 L133.50,684.11 L134.00,684.10 L134.50,684.10 L135.00,684.10 L135.50,684.10 L136.00,684.10 L136.50,684.09 L137.00,684.09 L137.50,684.09 L138.00,684.09 L138.50,684.09 L139.00,684.08 L139.50,684.08 L140.00,684.08 L140.50,684.08 L141.00,684.08 L141.50,684.07 L142.00,684.07 L142.50,684.07 L143.00,684.07 L143.50,684.07 L144.00,684.07 L144.50,684.06 L145.00,684.06 L145.50,684.06 L146.00,684.06 L146.50,684.06 L147.00,684.05 L147.50,684.05 L148.00,684.05 L148.50,684.05 L149.00,684.05 L149.50,684.04 L150.00,684.04 L150.50,684.04 L151.00,684.04 L151.50,684.04 L152.00,684.03 L152.50,684.03 L153.00,684.03 L153.50,684.03 L154.00,684.03 L154.50,684.02 L155.00,684.02 L155.50,684.02 L156.00,684.02 L156.50,684.02 L157.00,684.01 L157.50,684.01 L158.00,684.01 L158.50,684.01 L159.00,684.01 L159.50,684.00 L160.00,684.00 L160.50,684.00 L161.00,684.00 L161.50,684.00 L162.00,683.99 L162.50,683.99 L163.00,683.99 L163.50,683.99 L164.00,683.99 L164.50,683.98 L165.00,683.98 L165.50,683.98 L166.00,683.98 L166.50,683.98 L167.00,683.98 L167.50,683.97 L168.00,683.97 L168.50,683.97 L169.00,683.97 L169.50,683.97 L170.00,683.96 L170.50,683.96 L171.00,683.96 L171.50,683.96 L172.00,683.96 L172.50,683.95 L173.00,683.95 L173.50,683.95 L174.00,683.95 L174.50,683.95 L175.00,683.94 L175.50,683.94 L176.00,683.94 L176.50,683.94 L177.00,683.94 L177.50,683.93 L178.00,683.93 L178.50,683.93 L179.00,683.93 L179.50,683.93 L180.00,683.92 L180.50,683.92 L181.00,683.92 L181.50,683.92 L182.00,683.92 L182.50,683.91 L183.00,683.91 L183.50,683.91 L184.00,683.91 L184.50,683.91 L185.00,683.90 L185.50,683.90 L186.00,683.90 L186.50,683.90 L187.00,683.89 L187.50,683.89 L188.00,683.89 L188.50,683.89 L189.00,683.89 L189.50,683.88 L190.00,683.88 L190.50,683.88 L191.00,683.88 L191.50,683.88 L192.00,683.87 L192.50,683.87 L193.00,683.87 L193.50,683.87 L194.00,683.86 L194.50,683.86 L195.00,683.86 L195.50,683.86 L196.00,683.86 L196.50,683.85 L197.00,683.85 L197.50,683.85 L198.00,683.85 L198.50,683.84 L199.00,683.84 L199.50,683.84 L200.00,683.84 L200.50,683.83 L201.00,683.83 L201.50,683.83 L202.00,683.83 L202.50,683.82 L203.00,683.82 L203.50,683.82 L204.00,683.82 L204.50,683.81 L205.00,683.81 L205.50,683.81 L206.00,683.80 L206.50,683.80 L207.00,683.80 L207.50,683.79 L208.00,683.79 L208.50,683.79 L209.00,683.79 L209.50,683.78 L210.00,683.78 L210.50,683.78 L211.00,683.77 L211.50,683.77 L212.00,683.76 L212.50,683.76 L213.00,683.76 L213.50,683.75 L214.00,683.75 L214.50,683.75 L215.00,683.74 L215.50,683.74 L216.00,683.73 L216.50,683.73 L217.00,683.72 L217.50,683.72 L218.00,683.71 L218.50,683.71 L219.00,683.70 L219.50,683.70 L220.00,683.69 L220.50,683.69 L221.00,683.68 L221.50,683.68 L222.00,683.67 L222.50,683.67 L223.00,683.66 L223.50,683.65 L224.00,683.65 L224.50,683.64 L225.00,683.63 L225.50,683.63 L226.00,683.62 L226.50,683.61 L227.00,683.60 L227.50,683.60 L228.00,683.59 L228.50,683.58 L229.00,683.57 L229.50,683.56 L230.00,683.55 L230.50,683.55 L231.00,683.54 L231.50,683.53 L232.00,683.52 L232.50,683.51 L233.00,683.50 L233.50,683.48 L234.00,683.47 L234.50,683.46 L235.00,683.45 L235.50,683.44 L236.00,683.43 L236.50,683.41 L237.00,683.40 L237.50,683.39 L238.00,683.37 L238.50,683.36 L239.00,683.35 L239.50,683.33 L240.00,683.32 L240.50,683.30 L241.00,683.28 L241.50,683.27 L242.00,683.25 L242.50,683.23 L243.00,683.22 L243.50,683.20 L244.00,683.18 L244.50,683.16 L245.00,683.14 L245.50,683.12 L246.00,683.10 L246.50,683.08 L247.00,683.06 L247.50,683.04 L248.00,683.02 L248.50,682.99 L249.00,682.97 L249.50,682.95 L250.00,682.92 L250.50,682.90 L251.00,682.87 L251.50,682.85 L252.00,682.82 L252.50,682.79 L253.00,682.76 L253.50,682.74 L254.00,682.71 L254.50,682.68 L255.00,682.65 L255.50,682.62 L256.00,682.58 L256.50,682.55 L257.00,682.52 L257.50,682.49 L258.00,682.45 L258.50,682.42 L259.00,682.38 L259.50,682.35 L260.00,682.31 L260.50,682.27 L261.00,682.24 L261.50,682.20 L262.00,682.16 L262.50,682.12 L263.00,682.08 L263.50,682.03 L264.00,681.99 L264.50,681.95 L265.00,681.91 L265.50,681.86 L266.00,681.82 L266.50,681.77 L267.00,681.72 L267.50,681.67 L268.00,681.63 L268.50,681.58 L269.00,681.53 L269.50,681.47 L270.00,681.42 L270.50,681.37 L271.00,681.31 L271.50,681.26 L272.00,681.20 L272.50,681.15 L273.00,681.09 L273.50,681.03 L274.00,680.97 L274.50,680.91 L275.00,680.85 L275.50,680.78 L276.00,680.72 L276.50,680.65 L277.00,680.59 L277.50,680.52 L278.00,680.45 L278.50,680.38 L279.00,680.31 L279.50,680.23 L280.00,680.16 L280.50,680.08 L281.00,680.01 L281.50,679.93 L282.00,679.85 L282.50,679.76 L283.00,679.68 L283.50,679.59 L284.00,679.50 L284.50,679.41 L285.00,679.32 L285.50,679.23 L286.00,679.13 L286.50,679.03 L287.00,678.93 L287.50,678.83 L288.00,678.73 L288.50,678.62 L289.00,678.51 L289.50,678.39 L290.00,678.28 L290.50,678.16 L291.00,678.04 L291.50,677.91 L292.00,677.78 L292.50,677.65 L293.00,677.52 L293.50,677.38 L294.00,677.23 L294.50,677.09 L295.00,676.94 L295.50,676.78 L296.00,676.62 L296.50,676.46 L297.00,676.29 L297.50,676.12 L298.00,675.94 L298.50,675.76 L299.00,675.57 L299.50,675.38 L300.00,675.18 L300.50,674.98 L301.00,674.77 L301.50,674.55 L302.00,674.33 L302.50,674.10 L303.00,673.87 L303.50,673.63 L304.00,673.38 L304.50,673.13 L305.00,672.87 L305.50,672.60 L306.00,672.32 L306.50,672.04 L307.00,671.75 L307.50,671.45 L308.00,671.14 L308.50,670.83 L309.00,670.51 L309.50,670.18 L310.00,669.84 L310.50,669.49 L311.00,669.13 L311.50,668.77 L312.00,668.39 L312.50,668.01 L313.00,667.62 L313.50,667.21 L314.00,666.80 L314.50,666.38 L315.00,665.95 L315.50,665.52 L316.00,665.07 L316.50,664.61 L317.00,664.14 L317.50,663.67 L318.00,663.18 L318.50,662.69 L319.00,662.18 L319.50,661.67 L320.00,661.14 L320.50,660.61 L321.00,660.07 L321.50,659.52 L322.00,658.96 L322.50,658.40 L323.00,657.82 L323.50,657.24 L324.00,656.64 L324.50,656.05 L325.00,655.44 L325.50,654.82 L326.00,654.20 L326.50,653.57 L327.00,652.94 L327.50,652.30 L328.00,651.65 L328.50,651.00 L329.00,650.35 L329.50,649.68 L330.00,649.02 L330.50,648.35 L331.00,647.68 L331.50,647.00 L332.00,646.32 L332.50,645.65 L333.00,644.96 L333.50,644.28 L334.00,643.60 L334.50,642.92 L335.00,642.24 L335.50,641.56 L336.00,640.88 L336.50,640.20 L337.00,639.53 L337.50,638.86 L338.00,638.20 L338.50,637.54 L339.00,636.88 L339.50,636.24 L340.00,635.59 L340.50,634.96 L341.00,634.33 L341.50,633.72 L342.00,633.11 L342.50,632.51 L343.00,631.92 L343.50,631.35 L344.00,630.78 L344.50,630.23 L345.00,629.69 L345.50,629.17 L346.00,628.65 L346.50,628.16 L347.00,627.68 L347.50,627.21 L348.00,626.76 L348.50,626.33 L349.00,625.91 L349.50,625.52 L350.00,625.14 L350.50,624.78 L351.00,624.44 L351.50,624.12 L352.00,623.82 L352.50,623.54 L353.00,623.27 L353.50,623.04 L354.00,622.82 L354.50,622.62 L355.00,622.45 L355.50,622.29 L356.00,622.16 L356.50,622.05 L357.00,621.97 L357.50,621.91 L358.00,621.86 L358.50,621.85 L359.00,621.85 L359.50,621.88 L360.00,621.93 L360.50,622.00 L361.00,622.09 L361.50,622.21 L362.00,622.35 L362.50,622.51 L363.00,622.69 L363.50,622.89 L364.00,623.12 L364.50,623.36 L365.00,623.63 L365.50,623.91 L366.00,624.22 L366.50,624.54 L367.00,624.89 L367.50,625.25 L368.00,625.63 L368.50,626.03 L369.00,626.45 L369.50,626.88 L370.00,627.33 L370.50,627.79 L371.00,628.27 L371.50,628.77 L372.00,629.27 L372.50,629.79 L373.00,630.33 L373.50,630.87 L374.00,631.43 L374.50,632.00 L375.00,632.58 L375.50,633.16 L376.00,633.76 L376.50,634.36 L377.00,634.98 L377.50,635.60 L378.00,636.22 L378.50,636.85 L379.00,637.49 L379.50,638.13 L380.00,638.78 L380.50,639.42 L381.00,640.08 L381.50,640.73 L382.00,641.38 L382.50,642.04 L383.00,642.69 L383.50,643.35 L384.00,644.00 L384.50,644.65 L385.00,645.31 L385.50,645.95 L386.00,646.60 L386.50,647.24 L387.00,647.88 L387.50,648.51 L388.00,649.14 L388.50,649.77 L389.00,650.39 L389.50,651.00 L390.00,651.60 L390.50,652.20 L391.00,652.80 L391.50,653.38 L392.00,653.96 L392.50,654.53 L393.00,655.09 L393.50,655.64 L394.00,656.19 L394.50,656.73 L395.00,657.25 L395.50,657.77 L396.00,658.28 L396.50,658.78 L397.00,659.27 L397.50,659.75 L398.00,660.22 L398.50,660.68 L399.00,661.13 L399.50,661.57 L400.00,662.00 L400.50,662.42 L401.00,662.83 L401.50,663.23 L402.00,663.62 L402.50,664.00 L403.00,664.37 L403.50,664.73 L404.00,665.08 L404.50,665.43 L405.00,665.76 L405.50,666.08 L406.00,666.39 L406.50,666.70 L407.00,666.99 L407.50,667.28 L408.00,667.55 L408.50,667.82 L409.00,668.08 L409.50,668.33 L410.00,668.57 L410.50,668.80 L411.00,669.03 L411.50,669.25 L412.00,669.46 L412.50,669.66 L413.00,669.86 L413.50,670.04 L414.00,670.22 L414.50,670.40 L415.00,670.57 L415.50,670.73 L416.00,670.88 L416.50,671.03 L417.00,671.17 L417.50,671.31 L418.00,671.44 L418.50,671.56 L419.00,671.68 L419.50,671.80 L420.00,671.91 L420.50,672.01 L421.00,672.11 L421.50,672.21 L422.00,672.30 L422.50,672.39 L423.00,672.47 L423.50,672.55 L424.00,672.62 L424.50,672.69 L425.00,672.76 L425.50,672.83 L426.00,672.89 L426.50,672.95 L427.00,673.00 L427.50,673.05 L428.00,673.10 L428.50,673.15 L429.00,673.20 L429.50,673.24 L430.00,673.28 L430.50,673.32 L431.00,673.35 L431.50,673.39 L432.00,673.42 L432.50,673.45 L433.00,673.47 L433.50,673.50 L434.00,673.53 L434.50,673.55 L435.00,673.57 L435.50,673.59 L436.00,673.61 L436.50,673.63 L437.00,673.65 L437.50,673.66 L438.00,673.68 L438.50,673.69 L439.00,673.70 L439.50,673.72 L440.00,673.73 L440.50,673.74 L441.00,673.75 L441.50,673.75 L442.00,673.76 L442.50,673.77 L443.00,673.78 L443.50,673.78 L444.00,673.79 L444.50,673.79 L445.00,673.80 L445.50,673.80 L446.00,673.81 L446.50,673.81 L447.00,673.81 L447.50,673.82 L448.00,673.82 L448.50,673.82 L449.00,673.82 L449.50,673.83 L450.00,673.83 L450.50,673.83 L451.00,673.83 L451.50,673.83 L452.00,673.83 L452.50,673.83 L453.00,673.83 L453.50,673.83 L454.00,673.83 L454.50,673.83 L455.00,673.83 L455.50,673.83 L456.00,673.83 L456.50,673.83 L457.00,673.83 L457.50,673.83 L458.00,673.83 L458.50,673.82 L459.00,673.82 L459.50,673.82 L460.00,673.82 L460.50,673.82 L461.00,673.82 L461.50,673.82 L462.00,673.82 L462.50,673.81 L463.00,673.81 L463.50,673.81 L464.00,673.81 L464.50,673.81 L465.00,673.81 L465.50,673.80 L466.00,673.80 L466.50,673.80 L467.00,673.80 L467.50,673.80 L468.00,673.80 L468.50,673.79 L469.00,673.79 L469.50,673.79 L470.00,673.79 L470.50,673.79 L471.00,673.78 L471.50,673.78 L472.00,673.78 L472.50,673.78 L473.00,673.78 L473.50,673.78 L474.00,673.77 L474.50,673.77 L475.00,673.77 L475.50,673.77 L476.00,673.77 L476.50,673.76 L477.00,673.76 L477.50,673.76 L478.00,673.76 L478.50,673.76 L479.00,673.75 L479.50,673.75 L480.00,673.75 L480.50,673.75 L481.00,673.75 L481.50,673.74 L482.00,673.74 L482.50,673.74 L483.00,673.74 L483.50,673.74 L484.00,673.73 L484.50,673.73 L485.00,673.73 L485.50,673.73 L486.00,673.73 L486.50,673.72 L487.00,673.72 L487.50,673.72 L488.00,673.72 L488.50,673.72 L489.00,673.72 L489.50,673.71 L490.00,673.71 L490.50,673.71 L491.00,673.71 L491.50,673.71 L492.00,673.70 L492.50,673.70 L493.00,673.70 L493.50,673.70 L494.00,673.70 L494.50,673.69 L495.00,673.69 L495.50,673.69 L496.00,673.69 L496.50,673.69 L497.00,673.68 L497.50,673.68 L498.00,673.68 L498.50,673.68 L499.00,673.68 L499.50,673.67 L500.00,673.67 L500.50,673.67 L501.00,673.67 L501.50,673.67 L502.00,673.66 L502.50,673.66 L503.00,673.66 L503.50,673.66 L504.00,673.66 L504.50,673.65 L505.00,673.65 L505.50,673.65 L506.00,673.65 L506.50,673.65 L507.00,673.64 L507.50,673.64 L508.00,673.64 L508.50,673.64 L509.00,673.64 L509.50,673.63 L510.00,673.63 L510.50,673.63 L511.00,673.63 L511.50,673.63 L512.00,673.63 L512.50,673.62 L513.00,673.62 L513.50,673.62 L514.00,673.62 L514.50,673.62 L515.00,673.61 L515.50,673.61 L516.00,673.61 L516.50,673.61 L517.00,673.61 L517.50,673.60 L518.00,673.60 L518.50,673.60 L519.00,673.60 L519.50,673.60 L520.00,673.59 L520.50,673.59 L521.00,673.59 L521.50,673.59 L522.00,673.59 L522.50,673.58 L523.00,673.58 L523.50,673.58 L524.00,673.58 L524.50,673.58 L525.00,673.57 L525.50,673.57 L526.00,673.57 L526.50,673.57 L527.00,673.57 L527.50,673.56 L528.00,673.56 L528.50,673.56 L529.00,673.56 L529.50,673.56 L530.00,673.55 L530.50,673.55 L531.00,673.55 L531.50,673.55 L532.00,673.55 L532.50,673.54 L533.00,673.54 L533.50,673.54 L534.00,673.54 L534.50,673.54 L535.00,673.54 L535.50,673.53 L536.00,673.53 L536.50,673.53 L537.00,673.53 L537.50,673.53 L538.00,673.52 L538.50,673.52 L539.00,673.52 L539.50,673.52 L540.00,673.52 L540.50,673.51 L541.00,673.51 L541.50,673.51 L542.00,673.51 L542.50,673.51 L543.00,673.50 L543.50,673.50 L544.00,673.50" fill="none" stroke="#0a0ac4" stroke-width="1.50" stroke-linejoin="round" stroke-linecap="round"/>
</g>
<rect x="84.50" y="415.50" width="459.90" height="330.30" fill="none" stroke="#000" stroke-width="2.20"/>
<line x1="84.50" y1="745.80" x2="84.50" y2="753.80" stroke="#000" stroke-width="1.80"/>
<line x1="186.70" y1="745.80" x2="186.70" y2="753.80" stroke="#000" stroke-width="1.80"/>
<line x1="288.90" y1="745.80" x2="288.90" y2="753.80" stroke="#000" stroke-width="1.80"/>
<line x1="391.10" y1="745.80" x2="391.10" y2="753.80" stroke="#000" stroke-width="1.80"/>
<line x1="493.30" y1="745.80" x2="493.30" y2="753.80" stroke="#000" stroke-width="1.80"/>
<line x1="135.60" y1="745.80" x2="135.60" y2="750.30" stroke="#000" stroke-width="1.80"/>
<line x1="237.80" y1="745.80" x2="237.80" y2="750.30" stroke="#000" stroke-width="1.80"/>
<line x1="340.00" y1="745.80" x2="340.00" y2="750.30" stroke="#000" stroke-width="1.80"/>
<line x1="442.20" y1="745.80" x2="442.20" y2="750.30" stroke="#000" stroke-width="1.80"/>
<line x1="544.40" y1="745.80" x2="544.40" y2="750.30" stroke="#000" stroke-width="1.80"/>
<line x1="213.90" y1="450.40" x2="261.57" y2="466.55" stroke="#000" stroke-width="1.30"/>
<path d="M268.20,468.80 L259.60,469.26 L261.65,463.20 Z" fill="#000"/>
<line x1="371.00" y1="554.80" x2="359.83" y2="575.44" stroke="#000" stroke-width="1.30"/>
<path d="M356.50,581.60 L357.49,573.04 L363.12,576.09 Z" fill="#000"/>
<defs><clipPath id="cd"><rect x="620.5" y="417.0" width="461.5" height="331.3"/></clipPath></defs>
<g clip-path="url(#cd)">
<path d="M621.00,701.32 L622.18,708.20 L623.44,708.63 L624.84,711.29 L625.90,713.16 L626.78,710.78 L628.31,703.17 L629.17,701.65 L630.06,698.46 L631.22,709.51 L632.43,703.31 L633.60,702.61 L635.15,714.74 L636.22,706.28 L637.27,713.12 L638.72,709.62 L640.24,706.56 L641.73,706.35 L643.26,705.12 L644.66,707.45 L645.57,700.94 L646.50,716.06 L647.42,713.57 L648.66,709.24 L649.65,706.15 L650.58,704.14 L651.58,704.97 L652.64,717.73 L653.64,699.73 L654.56,711.57 L655.56,705.97 L656.61,707.11 L657.87,706.59 L659.04,712.15 L660.23,698.61 L661.19,702.40 L662.61,706.30 L664.12,709.06 L665.63,710.57 L666.55,697.00 L667.57,705.30 L668.84,703.04 L669.81,705.90 L671.05,704.59 L672.33,704.36 L673.19,715.59 L674.36,708.63 L675.61,707.12 L676.71,715.45 L678.04,698.45 L678.99,706.87 L680.33,706.23 L681.20,702.81 L682.27,702.30 L683.17,699.27 L684.54,703.98 L685.94,709.40 L687.43,703.89 L688.57,708.07 L689.86,697.58 L691.11,704.49 L692.66,704.71 L694.02,700.43 L695.18,710.28 L696.08,705.74 L697.27,704.65 L698.61,699.74 L699.64,697.64 L700.96,706.38 L702.28,708.07 L703.75,702.56 L704.90,711.12 L706.39,708.53 L707.46,702.50 L708.66,709.70 L710.18,698.16 L711.14,701.98 L712.28,706.27 L713.48,701.88 L714.65,706.43 L716.11,711.57 L717.17,706.73 L718.04,697.00 L719.05,708.46 L719.94,701.63 L721.24,701.38 L722.77,703.53 L723.74,697.00 L725.09,706.01 L726.43,707.53 L727.71,704.51 L729.19,699.93 L730.70,703.71 L731.98,701.76 L733.10,697.00 L734.61,700.03 L735.91,705.12 L737.21,708.85 L738.21,711.32 L739.44,696.03 L740.51,708.25 L741.42,697.63 L742.66,690.04 L743.55,696.52 L744.52,697.13 L745.48,705.94 L746.83,702.77 L748.03,694.27 L748.94,699.63 L750.30,702.79 L751.51,700.38 L752.63,693.10 L754.11,698.33 L755.33,702.91 L756.32,690.80 L757.19,693.65 L758.40,688.30 L759.59,697.01 L760.49,688.41 L761.99,689.94 L763.17,692.55 L764.65,690.80 L765.72,688.19 L766.66,689.79 L767.53,683.93 L768.60,682.19 L769.89,680.35 L771.09,676.07 L772.08,667.34 L773.22,664.89 L774.18,662.00 L775.40,658.12 L776.68,647.50 L778.10,633.91 L779.17,623.80 L780.72,619.38 L781.66,602.77 L782.58,598.33 L783.73,579.43 L785.06,553.08 L786.38,555.78 L787.59,523.93 L788.79,507.51 L789.66,502.08 L790.88,489.13 L791.87,481.00 L793.41,460.21 L794.58,463.81 L795.66,451.22 L796.93,454.55 L798.38,470.95 L799.51,481.10 L800.47,482.59 L801.89,497.48 L803.34,510.60 L804.54,525.15 L805.95,545.66 L807.35,572.53 L808.48,583.27 L809.87,587.51 L811.00,603.74 L812.18,605.44 L813.48,624.67 L814.80,634.73 L816.11,641.59 L817.66,652.01 L819.00,649.90 L820.37,657.32 L821.50,670.03 L822.42,671.39 L823.90,669.36 L825.15,674.86 L826.44,678.91 L827.83,665.91 L828.79,678.44 L830.06,670.77 L831.21,678.39 L832.26,683.48 L833.50,683.71 L834.36,691.63 L835.24,689.50 L836.72,691.90 L837.60,683.82 L838.76,686.34 L840.29,687.63 L841.64,692.56 L843.18,690.29 L844.46,683.52 L845.46,693.12 L846.62,690.33 L847.79,688.60 L849.18,694.34 L850.73,695.49 L851.66,687.71 L853.06,687.16 L854.39,687.32 L855.65,685.71 L856.68,685.36 L858.17,683.22 L859.31,689.67 L860.24,689.06 L861.56,690.24 L862.85,687.66 L863.94,693.96 L865.38,692.66 L866.67,691.89 L867.66,688.44 L868.77,692.51 L870.32,689.04 L871.81,695.64 L872.92,691.23 L874.16,695.94 L875.49,682.03 L876.81,697.91 L877.87,690.71 L878.82,685.85 L880.18,690.44 L881.43,693.04 L882.93,695.00 L884.00,689.24 L885.13,698.73 L886.23,687.88 L887.33,687.98 L888.58,693.17 L889.81,693.24 L891.19,686.21 L892.24,694.91 L893.48,690.73 L894.79,690.30 L896.19,688.19 L897.10,688.62 L898.39,680.62 L899.76,686.78 L901.15,685.64 L902.53,684.58 L903.86,688.89 L905.08,683.72 L906.22,677.75 L907.54,687.01 L909.01,674.77 L910.31,672.03 L911.45,675.48 L912.40,673.25 L913.37,662.87 L914.52,656.83 L915.45,669.95 L916.84,656.73 L918.10,650.04 L918.98,644.92 L919.99,637.44 L921.26,626.49 L922.23,619.92 L923.30,601.75 L924.33,596.03 L925.82,580.63 L927.01,575.93 L927.89,570.37 L929.11,549.91 L930.15,551.01 L931.01,538.54 L932.12,535.80 L933.08,519.17 L934.16,529.38 L935.45,542.14 L936.49,534.51 L937.34,541.50 L938.78,553.61 L940.13,563.23 L941.32,566.33 L942.77,592.29 L944.17,597.07 L945.60,620.92 L946.83,625.68 L947.90,635.53 L948.80,641.04 L949.90,652.30 L950.83,651.95 L952.26,663.27 L953.12,661.91 L954.36,672.21 L955.22,676.51 L956.50,674.84 L957.61,673.93 L958.74,678.33 L959.77,682.64 L961.28,690.96 L962.64,682.16 L963.58,693.03 L964.91,686.61 L966.34,685.51 L967.26,688.61 L968.39,678.50 L969.54,683.34 L970.97,688.96 L972.05,689.04 L973.39,690.27 L974.79,678.99 L975.88,685.84 L976.80,687.16 L978.23,693.94 L979.19,691.71 L980.29,682.63 L981.24,688.49 L982.59,680.13 L983.58,696.48 L984.49,689.59 L985.74,690.43 L986.84,688.38 L987.78,693.79 L989.01,691.48 L990.25,691.16 L991.67,700.44 L992.61,693.52 L993.63,689.30 L995.06,687.91 L996.04,696.74 L997.54,690.56 L998.91,689.65 L1000.17,692.71 L1001.35,691.87 L1002.47,690.42 L1003.51,691.61 L1004.59,691.99 L1005.54,691.86 L1006.81,688.85 L1008.14,693.53 L1009.52,680.46 L1010.97,693.98 L1012.12,685.27 L1013.34,689.58 L1014.82,692.42 L1016.30,694.17 L1017.57,693.08 L1018.47,689.79 L1019.63,678.36 L1020.85,693.04 L1021.92,678.52 L1023.44,694.87 L1024.90,687.08 L1026.27,696.49 L1027.75,698.76 L1028.98,697.19 L1029.83,693.39 L1030.72,696.51 L1032.15,690.43 L1033.03,683.18 L1034.09,684.40 L1035.27,693.43 L1036.33,700.57 L1037.77,689.56 L1038.95,697.10 L1039.94,700.34 L1040.92,694.30 L1042.28,692.58 L1043.76,697.57 L1045.10,689.03 L1046.26,695.85 L1047.61,694.77 L1048.58,694.00 L1049.70,699.12 L1051.16,691.18 L1052.66,692.04 L1053.71,692.47 L1054.87,692.26 L1056.09,698.51 L1057.11,695.01 L1058.02,692.15 L1059.07,699.83 L1060.05,693.39 L1061.42,686.74 L1062.92,691.18 L1064.23,693.60 L1065.54,694.56 L1066.98,689.10 L1068.19,695.88 L1069.16,692.92 L1070.17,687.51 L1071.58,696.05 L1072.77,694.55 L1073.64,698.60 L1074.99,686.69 L1075.95,680.77 L1077.11,690.88 L1078.01,694.74 L1079.25,687.16 L1080.21,691.87 L1081.09,691.59" fill="none" stroke="#111" stroke-width="1.70" stroke-linejoin="round" stroke-linecap="round"/>
<path d="M780.00,697.13 L780.50,697.09 L781.00,697.06 L781.50,697.02 L782.00,696.99 L782.50,696.95 L783.00,696.91 L783.50,696.87 L784.00,696.83 L784.50,696.79 L785.00,696.75 L785.50,696.71 L786.00,696.67 L786.50,696.63 L787.00,696.58 L787.50,696.54 L788.00,696.49 L788.50,696.45 L789.00,696.40 L789.50,696.35 L790.00,696.30 L790.50,696.25 L791.00,696.21 L791.50,696.16 L792.00,696.10 L792.50,696.05 L793.00,696.00 L793.50,695.95 L794.00,695.90 L794.50,695.85 L795.00,695.79 L795.50,695.74 L796.00,695.69 L796.50,695.63 L797.00,695.58 L797.50,695.52 L798.00,695.47 L798.50,695.41 L799.00,695.36 L799.50,695.30 L800.00,695.25 L800.50,695.20 L801.00,695.14 L801.50,695.09 L802.00,695.03 L802.50,694.98 L803.00,694.92 L803.50,694.87 L804.00,694.81 L804.50,694.76 L805.00,694.71 L805.50,694.65 L806.00,694.60 L806.50,694.55 L807.00,694.50 L807.50,694.45 L808.00,694.40 L808.50,694.34 L809.00,694.29 L809.50,694.25 L810.00,694.20 L810.50,694.15 L811.00,694.10 L811.50,694.05 L812.00,694.01 L812.50,693.96 L813.00,693.92 L813.50,693.87 L814.00,693.83 L814.50,693.79 L815.00,693.75 L815.50,693.71 L816.00,693.67 L816.50,693.63 L817.00,693.59 L817.50,693.55 L818.00,693.51 L818.50,693.48 L819.00,693.44 L819.50,693.41 L820.00,693.37 L820.50,693.34 L821.00,693.31 L821.50,693.28 L822.00,693.25 L822.50,693.22 L823.00,693.19 L823.50,693.16 L824.00,693.13 L824.50,693.11 L825.00,693.08 L825.50,693.06 L826.00,693.03 L826.50,693.01 L827.00,692.99 L827.50,692.96 L828.00,692.94 L828.50,692.92 L829.00,692.90 L829.50,692.89 L830.00,692.87 L830.50,692.85 L831.00,692.83 L831.50,692.82 L832.00,692.80 L832.50,692.79 L833.00,692.77 L833.50,692.76 L834.00,692.74 L834.50,692.73 L835.00,692.72 L835.50,692.71 L836.00,692.70 L836.50,692.69 L837.00,692.68 L837.50,692.67 L838.00,692.66 L838.50,692.65 L839.00,692.64 L839.50,692.63 L840.00,692.63 L840.50,692.62 L841.00,692.61 L841.50,692.60 L842.00,692.60 L842.50,692.59 L843.00,692.59 L843.50,692.58 L844.00,692.58 L844.50,692.57 L845.00,692.57 L845.50,692.56 L846.00,692.56 L846.50,692.56 L847.00,692.55 L847.50,692.55 L848.00,692.55 L848.50,692.54 L849.00,692.54 L849.50,692.54 L850.00,692.53 L850.50,692.53 L851.00,692.53 L851.50,692.53 L852.00,692.53 L852.50,692.52 L853.00,692.52 L853.50,692.52 L854.00,692.52 L854.50,692.52 L855.00,692.52 L855.50,692.52 L856.00,692.51 L856.50,692.51 L857.00,692.51 L857.50,692.51 L858.00,692.51 L858.50,692.51 L859.00,692.51 L859.50,692.51 L860.00,692.51 L860.50,692.51 L861.00,692.51 L861.50,692.51 L862.00,692.50 L862.50,692.50 L863.00,692.50 L863.50,692.50 L864.00,692.50 L864.50,692.50 L865.00,692.50 L865.50,692.50 L866.00,692.50 L866.50,692.50 L867.00,692.50 L867.50,692.50 L868.00,692.50 L868.50,692.50 L869.00,692.50 L869.50,692.50 L870.00,692.50 L870.50,692.50 L871.00,692.50 L871.50,692.50 L872.00,692.50 L872.50,692.50 L873.00,692.50 L873.50,692.50 L874.00,692.50 L874.50,692.50 L875.00,692.50 L875.50,692.50 L876.00,692.49 L876.50,692.49 L877.00,692.49 L877.50,692.49 L878.00,692.49 L878.50,692.49 L879.00,692.49 L879.50,692.49 L880.00,692.49 L880.50,692.49 L881.00,692.49 L881.50,692.49 L882.00,692.49 L882.50,692.48 L883.00,692.48 L883.50,692.48 L884.00,692.48 L884.50,692.48 L885.00,692.48 L885.50,692.48 L886.00,692.48 L886.50,692.47 L887.00,692.47 L887.50,692.47 L888.00,692.47 L888.50,692.46 L889.00,692.46 L889.50,692.46 L890.00,692.46 L890.50,692.45 L891.00,692.45 L891.50,692.45 L892.00,692.44 L892.50,692.44 L893.00,692.44 L893.50,692.43 L894.00,692.43 L894.50,692.43 L895.00,692.42 L895.50,692.42 L896.00,692.41 L896.50,692.41 L897.00,692.40 L897.50,692.39 L898.00,692.39 L898.50,692.38 L899.00,692.37 L899.50,692.37 L900.00,692.36 L900.50,692.35 L901.00,692.34 L901.50,692.34 L902.00,692.33 L902.50,692.32 L903.00,692.31 L903.50,692.30 L904.00,692.29 L904.50,692.28 L905.00,692.27 L905.50,692.25 L906.00,692.24 L906.50,692.23 L907.00,692.22 L907.50,692.20 L908.00,692.19 L908.50,692.18 L909.00,692.16 L909.50,692.15 L910.00,692.13 L910.50,692.11 L911.00,692.10 L911.50,692.08 L912.00,692.06 L912.50,692.04 L913.00,692.03 L913.50,692.01 L914.00,691.99 L914.50,691.97 L915.00,691.94 L915.50,691.92 L916.00,691.90 L916.50,691.88 L917.00,691.86 L917.50,691.83 L918.00,691.81 L918.50,691.78 L919.00,691.76 L919.50,691.73 L920.00,691.71 L920.50,691.68 L921.00,691.65 L921.50,691.63 L922.00,691.60 L922.50,691.57 L923.00,691.54 L923.50,691.51 L924.00,691.48 L924.50,691.45 L925.00,691.42 L925.50,691.39 L926.00,691.36 L926.50,691.33 L927.00,691.29 L927.50,691.26 L928.00,691.23 L928.50,691.20 L929.00,691.16 L929.50,691.13 L930.00,691.10 L930.50,691.06 L931.00,691.03 L931.50,690.99 L932.00,690.96 L932.50,690.92 L933.00,690.89 L933.50,690.85 L934.00,690.82 L934.50,690.78 L935.00,690.75 L935.50,690.72 L936.00,690.68 L936.50,690.65 L937.00,690.61 L937.50,690.58 L938.00,690.54 L938.50,690.51 L939.00,690.47 L939.50,690.44 L940.00,690.40 L940.50,690.37 L941.00,690.34 L941.50,690.30 L942.00,690.27 L942.50,690.24 L943.00,690.21 L943.50,690.17 L944.00,690.14 L944.50,690.11 L945.00,690.08 L945.50,690.05 L946.00,690.02 L946.50,689.99 L947.00,689.96 L947.50,689.93 L948.00,689.90 L948.50,689.87 L949.00,689.85 L949.50,689.82 L950.00,689.79 L950.50,689.77 L951.00,689.74 L951.50,689.72 L952.00,689.69 L952.50,689.67 L953.00,689.64 L953.50,689.62 L954.00,689.60 L954.50,689.58 L955.00,689.56 L955.50,689.53 L956.00,689.51 L956.50,689.49 L957.00,689.47 L957.50,689.46 L958.00,689.44 L958.50,689.42 L959.00,689.40 L959.50,689.39 L960.00,689.37 L960.50,689.35 L961.00,689.34 L961.50,689.32 L962.00,689.31 L962.50,689.30 L963.00,689.28 L963.50,689.27 L964.00,689.26 L964.50,689.25 L965.00,689.23 L965.50,689.22 L966.00,689.21 L966.50,689.20 L967.00,689.19 L967.50,689.18 L968.00,689.17 L968.50,689.16 L969.00,689.16 L969.50,689.15 L970.00,689.14 L970.50,689.13 L971.00,689.13 L971.50,689.12 L972.00,689.11 L972.50,689.11 L973.00,689.10 L973.50,689.09 L974.00,689.09 L974.50,689.08 L975.00,689.08 L975.50,689.07 L976.00,689.07 L976.50,689.07 L977.00,689.06 L977.50,689.06 L978.00,689.06 L978.50,689.05 L979.00,689.05 L979.50,689.05 L980.00,689.04 L980.50,689.04 L981.00,689.04 L981.50,689.04 L982.00,689.03 L982.50,689.03 L983.00,689.03 L983.50,689.03 L984.00,689.02 L984.50,689.02 L985.00,689.02 L985.50,689.02 L986.00,689.02 L986.50,689.02 L987.00,689.02 L987.50,689.02 L988.00,689.01 L988.50,689.01 L989.00,689.01 L989.50,689.01 L990.00,689.01 L990.50,689.01 L991.00,689.01 L991.50,689.01 L992.00,689.01 L992.50,689.01 L993.00,689.01 L993.50,689.01 L994.00,689.01 L994.50,689.01 L995.00,689.00 L995.50,689.00 L996.00,689.00 L996.50,689.00 L997.00,689.00 L997.50,689.00 L998.00,689.00 L998.50,689.00 L999.00,689.00 L999.50,689.00 L1000.00,689.00 L1000.50,689.00 L1001.00,689.00 L1001.50,689.00 L1002.00,689.00 L1002.50,689.00 L1003.00,689.00 L1003.50,689.00 L1004.00,689.00 L1004.50,689.00 L1005.00,689.00 L1005.50,689.00 L1006.00,689.00 L1006.50,689.00 L1007.00,689.00 L1007.50,689.00 L1008.00,689.00 L1008.50,689.00 L1009.00,689.00 L1009.50,689.00 L1010.00,689.00 L1010.50,689.00 L1011.00,689.00 L1011.50,689.00 L1012.00,689.00 L1012.50,689.00 L1013.00,689.00 L1013.50,689.00 L1014.00,689.00 L1014.50,689.00 L1015.00,689.00 L1015.50,689.00 L1016.00,689.00 L1016.50,689.00 L1017.00,689.00 L1017.50,689.00 L1018.00,689.00 L1018.50,689.00 L1019.00,689.00 L1019.50,689.00 L1020.00,689.00 L1020.50,689.00 L1021.00,689.00 L1021.50,689.00 L1022.00,689.00 L1022.50,689.00 L1023.00,689.00 L1023.50,689.00 L1024.00,689.00 L1024.50,689.00 L1025.00,689.00 L1025.50,689.00 L1026.00,689.00 L1026.50,689.00 L1027.00,689.00 L1027.50,689.00 L1028.00,689.00 L1028.50,689.00 L1029.00,689.00 L1029.50,689.00 L1030.00,689.00 L1030.50,689.00 L1031.00,689.00 L1031.50,689.00 L1032.00,689.00 L1032.50,689.00 L1033.00,689.00 L1033.50,689.00 L1034.00,689.00 L1034.50,689.00 L1035.00,689.00 L1035.50,689.00 L1036.00,689.00 L1036.50,689.00 L1037.00,689.00 L1037.50,689.00 L1038.00,689.00 L1038.50,689.00 L1039.00,689.00 L1039.50,689.00 L1040.00,689.00 L1040.50,689.00 L1041.00,689.00 L1041.50,689.00 L1042.00,689.00 L1042.50,689.00 L1043.00,689.00 L1043.50,689.00 L1044.00,689.00 L1044.50,689.00 L1045.00,689.00 L1045.50,689.00 L1046.00,689.00 L1046.50,689.00 L1047.00,689.00 L1047.50,689.00 L1048.00,689.00 L1048.50,689.00 L1049.00,689.00 L1049.50,689.00 L1050.00,689.00 L1050.50,689.00 L1051.00,689.00 L1051.50,689.00 L1052.00,689.00 L1052.50,689.00 L1053.00,689.00 L1053.50,689.00 L1054.00,689.00 L1054.50,689.00 L1055.00,689.00 L1055.50,689.00 L1056.00,689.00 L1056.50,689.00 L1057.00,689.00 L1057.50,689.00 L1058.00,689.00 L1058.50,689.00 L1059.00,689.00 L1059.50,689.00 L1060.00,689.00 L1060.50,689.00 L1061.00,689.00 L1061.50,689.00 L1062.00,689.00 L1062.50,689.00 L1063.00,689.00 L1063.50,689.00 L1064.00,689.00 L1064.50,689.00 L1065.00,689.00 L1065.50,689.00 L1066.00,689.00 L1066.50,689.00 L1067.00,689.00 L1067.50,689.00 L1068.00,689.00 L1068.50,689.00 L1069.00,689.00 L1069.50,689.00 L1070.00,689.00 L1070.50,689.00 L1071.00,689.00 L1071.50,689.00 L1072.00,689.00 L1072.50,689.00 L1073.00,689.00 L1073.50,689.00 L1074.00,689.00 L1074.50,689.00 L1075.00,689.00 L1075.50,689.00 L1076.00,689.00 L1076.50,689.00 L1077.00,689.00 L1077.50,689.00 L1078.00,689.00 L1078.50,689.00 L1079.00,689.00 L1079.50,689.00 L1080.00,689.00 L1080.50,689.00 L1081.00,689.00 L1081.50,689.00 L1082.00,689.00" fill="none" stroke="#2c70a8" stroke-width="1.60" stroke-linejoin="round" stroke-linecap="round"/>
<path d="M820.00,661.53 L820.50,663.27 L821.00,664.89 L821.50,666.39 L822.00,667.78 L822.50,669.06 L823.00,670.25 L823.50,671.35 L824.00,672.36 L824.50,673.30 L825.00,674.16 L825.50,674.96 L826.00,675.70 L826.50,676.38 L827.00,677.01 L827.50,677.59 L828.00,678.12 L828.50,678.62 L829.00,679.08 L829.50,679.51 L830.00,679.90 L830.50,680.27 L831.00,680.62 L831.50,680.94 L832.00,681.24 L832.50,681.52 L833.00,681.79 L833.50,682.04 L834.00,682.28 L834.50,682.50 L835.00,682.71 L835.50,682.91 L836.00,683.10 L836.50,683.29 L837.00,683.46 L837.50,683.63 L838.00,683.79 L838.50,683.94 L839.00,684.08 L839.50,684.23 L840.00,684.36 L840.50,684.49 L841.00,684.62 L841.50,684.74 L842.00,684.86 L842.50,684.97 L843.00,685.08 L843.50,685.19 L844.00,685.30 L844.50,685.40 L845.00,685.49 L845.50,685.59 L846.00,685.68 L846.50,685.77 L847.00,685.86 L847.50,685.94 L848.00,686.03 L848.50,686.11 L849.00,686.18 L849.50,686.26 L850.00,686.33 L850.50,686.41 L851.00,686.48 L851.50,686.55 L852.00,686.61 L852.50,686.68 L853.00,686.74 L853.50,686.80 L854.00,686.86 L854.50,686.92 L855.00,686.98 L855.50,687.04 L856.00,687.09 L856.50,687.15 L857.00,687.20 L857.50,687.25 L858.00,687.30 L858.50,687.35 L859.00,687.40 L859.50,687.44 L860.00,687.49 L860.50,687.54 L861.00,687.58 L861.50,687.62 L862.00,687.66 L862.50,687.71 L863.00,687.75 L863.50,687.78 L864.00,687.82 L864.50,687.86 L865.00,687.90 L865.50,687.93 L866.00,687.97 L866.50,688.00 L867.00,688.04 L867.50,688.07 L868.00,688.10 L868.50,688.14 L869.00,688.17 L869.50,688.20 L870.00,688.23 L870.50,688.26 L871.00,688.29 L871.50,688.31 L872.00,688.34 L872.50,688.37 L873.00,688.40 L873.50,688.42 L874.00,688.45 L874.50,688.47 L875.00,688.50 L875.50,688.52 L876.00,688.55 L876.50,688.57 L877.00,688.59 L877.50,688.62 L878.00,688.64 L878.50,688.66 L879.00,688.68 L879.50,688.70 L880.00,688.73 L880.50,688.69 L881.00,688.65 L881.50,688.61 L882.00,688.56 L882.50,688.52 L883.00,688.47 L883.50,688.42 L884.00,688.37 L884.50,688.32 L885.00,688.27 L885.50,688.21 L886.00,688.16 L886.50,688.10 L887.00,688.04 L887.50,687.98 L888.00,687.92 L888.50,687.85 L889.00,687.79 L889.50,687.72 L890.00,687.65 L890.50,687.57 L891.00,687.50 L891.50,687.42 L892.00,687.34 L892.50,687.25 L893.00,687.17 L893.50,687.07 L894.00,686.98 L894.50,686.88 L895.00,686.78 L895.50,686.67 L896.00,686.56 L896.50,686.45 L897.00,686.32 L897.50,686.20 L898.00,686.06 L898.50,685.92 L899.00,685.77 L899.50,685.61 L900.00,685.44 L900.50,685.26 L901.00,685.07 L901.50,684.87 L902.00,684.65 L902.50,684.41 L903.00,684.16 L903.50,683.88 L904.00,683.59 L904.50,683.27 L905.00,682.92 L905.50,682.53 L906.00,682.12 L906.50,681.67 L907.00,681.17 L907.50,680.63 L908.00,680.03 L908.50,679.38 L909.00,678.67 L909.50,677.89 L910.00,677.03 L910.50,676.10 L911.00,675.07 L911.50,673.96 L912.00,672.74 L912.50,671.42 L913.00,669.98 L913.50,668.41 L914.00,666.72 L914.50,664.89 L915.00,662.92" fill="none" stroke="#e2000e" stroke-width="1.60" stroke-linejoin="round" stroke-linecap="round"/>
<path d="M690.00,696.88 L690.50,696.87 L691.00,696.86 L691.50,696.84 L692.00,696.83 L692.50,696.82 L693.00,696.81 L693.50,696.80 L694.00,696.79 L694.50,696.78 L695.00,696.76 L695.50,696.75 L696.00,696.74 L696.50,696.73 L697.00,696.71 L697.50,696.70 L698.00,696.69 L698.50,696.68 L699.00,696.66 L699.50,696.65 L700.00,696.63 L700.50,696.62 L701.00,696.61 L701.50,696.59 L702.00,696.58 L702.50,696.56 L703.00,696.55 L703.50,696.53 L704.00,696.52 L704.50,696.50 L705.00,696.48 L705.50,696.47 L706.00,696.45 L706.50,696.43 L707.00,696.42 L707.50,696.40 L708.00,696.38 L708.50,696.36 L709.00,696.34 L709.50,696.32 L710.00,696.31 L710.50,696.29 L711.00,696.27 L711.50,696.25 L712.00,696.23 L712.50,696.20 L713.00,696.18 L713.50,696.16 L714.00,696.14 L714.50,696.12 L715.00,696.09 L715.50,696.07 L716.00,696.05 L716.50,696.02 L717.00,696.00 L717.50,695.97 L718.00,695.95 L718.50,695.92 L719.00,695.90 L719.50,695.87 L720.00,695.84 L720.50,695.81 L721.00,695.79 L721.50,695.76 L722.00,695.73 L722.50,695.70 L723.00,695.67 L723.50,695.64 L724.00,695.60 L724.50,695.57 L725.00,695.54 L725.50,695.50 L726.00,695.47 L726.50,695.43 L727.00,695.40 L727.50,695.36 L728.00,695.32 L728.50,695.28 L729.00,695.25 L729.50,695.20 L730.00,695.16 L730.50,695.12 L731.00,695.08 L731.50,695.04 L732.00,694.99 L732.50,694.94 L733.00,694.90 L733.50,694.85 L734.00,694.80 L734.50,694.75 L735.00,694.70 L735.50,694.65 L736.00,694.59 L736.50,694.54 L737.00,694.48 L737.50,694.42 L738.00,694.36 L738.50,694.30 L739.00,694.24 L739.50,694.18 L740.00,694.11 L740.50,694.05 L741.00,693.98 L741.50,693.91 L742.00,693.83 L742.50,693.76 L743.00,693.68 L743.50,693.60 L744.00,693.52 L744.50,693.44 L745.00,693.36 L745.50,693.27 L746.00,693.18 L746.50,693.09 L747.00,692.99 L747.50,692.89 L748.00,692.79 L748.50,692.69 L749.00,692.58 L749.50,692.47 L750.00,692.35 L750.50,692.23 L751.00,692.11 L751.50,691.98 L752.00,691.85 L752.50,691.71 L753.00,691.57 L753.50,691.42 L754.00,691.26 L754.50,691.10 L755.00,690.93 L755.50,690.76 L756.00,690.57 L756.50,690.38 L757.00,690.17 L757.50,689.96 L758.00,689.73 L758.50,689.49 L759.00,689.23 L759.50,688.96 L760.00,688.67 L760.50,688.36 L761.00,688.02 L761.50,687.67 L762.00,687.29 L762.50,686.88 L763.00,686.44 L763.50,685.97 L764.00,685.45 L764.50,684.90 L765.00,684.30 L765.50,683.66 L766.00,682.96 L766.50,682.20 L767.00,681.38 L767.50,680.49 L768.00,679.52 L768.50,678.48 L769.00,677.35 L769.50,676.13 L770.00,674.80 L770.50,673.38 L771.00,671.84 L771.50,670.17 L772.00,668.38 L772.50,666.46 L773.00,664.39 L773.50,662.18 L774.00,659.81 L774.50,657.27 L775.00,654.57 L775.50,651.69 L776.00,648.63 L776.50,645.38 L777.00,641.94 L777.50,638.31 L778.00,634.47 L778.50,630.44 L779.00,626.21 L779.50,621.78 L780.00,617.15 L780.50,612.33 L781.00,607.31 L781.50,602.11 L782.00,596.73 L782.50,591.17 L783.00,585.46 L783.50,579.60 L784.00,573.61 L784.50,567.51 L785.00,561.30 L785.50,555.02 L786.00,548.67 L786.50,542.30 L787.00,535.92 L787.50,529.57 L788.00,523.26 L788.50,517.05 L789.00,510.95 L789.50,505.02 L790.00,499.28 L790.50,493.78 L791.00,488.56 L791.50,483.66 L792.00,479.12 L792.50,474.99 L793.00,471.30 L793.50,468.09 L794.00,465.40 L794.50,463.24 L795.00,461.66 L795.50,460.66 L796.00,460.25 L796.50,460.44 L797.00,461.23 L797.50,462.60 L798.00,464.54 L798.50,467.03 L799.00,470.03 L799.50,473.51 L800.00,477.44 L800.50,481.77 L801.00,486.47 L801.50,491.49 L802.00,496.79 L802.50,502.34 L803.00,508.08 L803.50,513.99 L804.00,520.02 L804.50,526.14 L805.00,532.32 L805.50,538.53 L806.00,544.74 L806.50,550.91 L807.00,557.04 L807.50,563.09 L808.00,569.05 L808.50,574.89 L809.00,580.61 L809.50,586.18 L810.00,591.60 L810.50,596.86 L811.00,601.94 L811.50,606.84 L812.00,611.55 L812.50,616.07 L813.00,620.40 L813.50,624.53 L814.00,628.46 L814.50,632.20 L815.00,635.75 L815.50,639.11 L816.00,642.28 L816.50,645.26 L817.00,648.07 L817.50,650.71 L818.00,653.18 L818.50,655.49 L819.00,657.65 L819.50,659.66 L820.00,661.53 L820.50,663.27 L821.00,664.89 L821.50,666.39 L822.00,667.78 L822.50,669.06 L823.00,670.25 L823.50,671.35 L824.00,672.36 L824.50,673.30 L825.00,674.16 L825.50,674.96 L826.00,675.70 L826.50,676.38 L827.00,677.01 L827.50,677.59 L828.00,678.12 L828.50,678.62 L829.00,679.08 L829.50,679.51 L830.00,679.90 L830.50,680.27 L831.00,680.62 L831.50,680.94 L832.00,681.24 L832.50,681.52 L833.00,681.79 L833.50,682.04 L834.00,682.28 L834.50,682.50 L835.00,682.71 L835.50,682.91 L836.00,683.10 L836.50,683.29 L837.00,683.46 L837.50,683.63 L838.00,683.79 L838.50,683.94 L839.00,684.08 L839.50,684.23 L840.00,684.36 L840.50,684.49 L841.00,684.62 L841.50,684.74 L842.00,684.86 L842.50,684.97 L843.00,685.08 L843.50,685.19 L844.00,685.30 L844.50,685.40 L845.00,685.49 L845.50,685.59 L846.00,685.68 L846.50,685.77 L847.00,685.86 L847.50,685.94 L848.00,686.03 L848.50,686.11 L849.00,686.18 L849.50,686.26 L850.00,686.33 L850.50,686.41 L851.00,686.48 L851.50,686.55 L852.00,686.61 L852.50,686.68 L853.00,686.74 L853.50,686.80 L854.00,686.86 L854.50,686.92 L855.00,686.98 L855.50,687.04 L856.00,687.09 L856.50,687.15 L857.00,687.20 L857.50,687.25 L858.00,687.30 L858.50,687.35 L859.00,687.40 L859.50,687.44 L860.00,687.49" fill="none" stroke="#0a8585" stroke-width="1.90" stroke-linejoin="round" stroke-linecap="round"/>
<path d="M621.00,698.30 L621.50,698.30 L622.00,698.30 L622.50,698.30 L623.00,698.30 L623.50,698.30 L624.00,698.30 L624.50,698.30 L625.00,698.30 L625.50,698.30 L626.00,698.30 L626.50,698.30 L627.00,698.30 L627.50,698.30 L628.00,698.30 L628.50,698.30 L629.00,698.30 L629.50,698.30 L630.00,698.30 L630.50,698.30 L631.00,698.30 L631.50,698.30 L632.00,698.30 L632.50,698.30 L633.00,698.30 L633.50,698.30 L634.00,698.30 L634.50,698.30 L635.00,698.30 L635.50,698.30 L636.00,698.30 L636.50,698.30 L637.00,698.30 L637.50,698.30 L638.00,698.30 L638.50,698.30 L639.00,698.30 L639.50,698.30 L640.00,698.30 L640.50,698.30 L641.00,698.30 L641.50,698.30 L642.00,698.30 L642.50,698.30 L643.00,698.30 L643.50,698.30 L644.00,698.30 L644.50,698.30 L645.00,698.30 L645.50,698.30 L646.00,698.30 L646.50,698.30 L647.00,698.30 L647.50,698.30 L648.00,698.30 L648.50,698.30 L649.00,698.30 L649.50,698.30 L650.00,698.30 L650.50,698.30 L651.00,698.30 L651.50,698.30 L652.00,698.30 L652.50,698.30 L653.00,698.30 L653.50,698.30 L654.00,698.30 L654.50,698.30 L655.00,698.30 L655.50,698.30 L656.00,698.30 L656.50,698.30 L657.00,698.30 L657.50,698.30 L658.00,698.30 L658.50,698.30 L659.00,698.30 L659.50,698.30 L660.00,698.30 L660.50,698.30 L661.00,698.30 L661.50,698.30 L662.00,698.30 L662.50,698.30 L663.00,698.30 L663.50,698.30 L664.00,698.30 L664.50,698.30 L665.00,698.30 L665.50,698.30 L666.00,698.30 L666.50,698.30 L667.00,698.30 L667.50,698.30 L668.00,698.30 L668.50,698.30 L669.00,698.30 L669.50,698.30 L670.00,698.30 L670.50,698.30 L671.00,698.30 L671.50,698.30 L672.00,698.30 L672.50,698.30 L673.00,698.30 L673.50,698.30 L674.00,698.30 L674.50,698.30 L675.00,698.30 L675.50,698.30 L676.00,698.30 L676.50,698.30 L677.00,698.30 L677.50,698.30 L678.00,698.30 L678.50,698.30 L679.00,698.30 L679.50,698.30 L680.00,698.30 L680.50,698.30 L681.00,698.30 L681.50,698.30 L682.00,698.30 L682.50,698.30 L683.00,698.30 L683.50,698.30 L684.00,698.30 L684.50,698.30 L685.00,698.30 L685.50,698.30 L686.00,698.30 L686.50,698.30 L687.00,698.30 L687.50,698.30 L688.00,698.30 L688.50,698.30 L689.00,698.30 L689.50,698.30 L690.00,698.30 L690.50,698.30 L691.00,698.30 L691.50,698.30 L692.00,698.30 L692.50,698.30 L693.00,698.30 L693.50,698.30 L694.00,698.30 L694.50,698.30 L695.00,698.30 L695.50,698.30 L696.00,698.30 L696.50,698.30 L697.00,698.30 L697.50,698.30 L698.00,698.30 L698.50,698.30 L699.00,698.30 L699.50,698.30 L700.00,698.30 L700.50,698.30 L701.00,698.30 L701.50,698.30 L702.00,698.30 L702.50,698.30 L703.00,698.30 L703.50,698.30 L704.00,698.30 L704.50,698.30 L705.00,698.30 L705.50,698.30 L706.00,698.30 L706.50,698.30 L707.00,698.30 L707.50,698.30 L708.00,698.30 L708.50,698.30 L709.00,698.30 L709.50,698.30 L710.00,698.30 L710.50,698.30 L711.00,698.30 L711.50,698.30 L712.00,698.30 L712.50,698.30 L713.00,698.30 L713.50,698.30 L714.00,698.30 L714.50,698.30 L715.00,698.30 L715.50,698.30 L716.00,698.30 L716.50,698.30 L717.00,698.30 L717.50,698.30 L718.00,698.30 L718.50,698.30 L719.00,698.30 L719.50,698.30 L720.00,698.30 L720.50,698.30 L721.00,698.30 L721.50,698.30 L722.00,698.30 L722.50,698.30 L723.00,698.30 L723.50,698.30 L724.00,698.30 L724.50,698.30 L725.00,698.30 L725.50,698.30 L726.00,698.30 L726.50,698.30 L727.00,698.30 L727.50,698.30 L728.00,698.30 L728.50,698.30 L729.00,698.30 L729.50,698.29 L730.00,698.29 L730.50,698.29 L731.00,698.29 L731.50,698.29 L732.00,698.29 L732.50,698.29 L733.00,698.29 L733.50,698.29 L734.00,698.29 L734.50,698.29 L735.00,698.29 L735.50,698.29 L736.00,698.29 L736.50,698.29 L737.00,698.28 L737.50,698.28 L738.00,698.28 L738.50,698.28 L739.00,698.28 L739.50,698.28 L740.00,698.28 L740.50,698.28 L741.00,698.27 L741.50,698.27 L742.00,698.27 L742.50,698.27 L743.00,698.27 L743.50,698.26 L744.00,698.26 L744.50,698.26 L745.00,698.26 L745.50,698.25 L746.00,698.25 L746.50,698.25 L747.00,698.24 L747.50,698.24 L748.00,698.24 L748.50,698.23 L749.00,698.23 L749.50,698.23 L750.00,698.22 L750.50,698.22 L751.00,698.21 L751.50,698.21 L752.00,698.20 L752.50,698.20 L753.00,698.19 L753.50,698.18 L754.00,698.18 L754.50,698.17 L755.00,698.17 L755.50,698.16 L756.00,698.15 L756.50,698.14 L757.00,698.13 L757.50,698.13 L758.00,698.12 L758.50,698.11 L759.00,698.10 L759.50,698.09 L760.00,698.08 L760.50,698.07 L761.00,698.06 L761.50,698.04 L762.00,698.03 L762.50,698.02 L763.00,698.01 L763.50,697.99 L764.00,697.98 L764.50,697.97 L765.00,697.95 L765.50,697.93 L766.00,697.92 L766.50,697.90 L767.00,697.89 L767.50,697.87 L768.00,697.85 L768.50,697.83 L769.00,697.81 L769.50,697.79 L770.00,697.77 L770.50,697.75 L771.00,697.73 L771.50,697.71 L772.00,697.69 L772.50,697.66 L773.00,697.64 L773.50,697.62 L774.00,697.59 L774.50,697.56 L775.00,697.54 L775.50,697.51 L776.00,697.48 L776.50,697.46 L777.00,697.43 L777.50,697.40 L778.00,697.37 L778.50,697.34 L779.00,697.31 L779.50,697.28 L780.00,697.24 L780.50,697.21 L781.00,697.18 L781.50,697.15 L782.00,697.11 L782.50,697.08 L783.00,697.04 L783.50,697.01 L784.00,696.97 L784.50,696.93 L785.00,696.90 L785.50,696.86 L786.00,696.82 L786.50,696.78 L787.00,696.74 L787.50,696.70 L788.00,696.66 L788.50,696.62 L789.00,696.58 L789.50,696.54 L790.00,696.50 L790.50,696.46 L791.00,696.42 L791.50,696.37 L792.00,696.33 L792.50,696.29 L793.00,696.25 L793.50,696.20 L794.00,696.16 L794.50,696.12 L795.00,696.07 L795.50,696.03 L796.00,695.99 L796.50,695.94 L797.00,695.90 L797.50,695.86 L798.00,695.81 L798.50,695.77 L799.00,695.73 L799.50,695.68 L800.00,695.64 L800.50,695.60 L801.00,695.55 L801.50,695.51 L802.00,695.47 L802.50,695.43 L803.00,695.38 L803.50,695.34 L804.00,695.30 L804.50,695.26 L805.00,695.22 L805.50,695.18 L806.00,695.14 L806.50,695.10 L807.00,695.06 L807.50,695.02 L808.00,694.98 L808.50,694.94 L809.00,694.90 L809.50,694.87 L810.00,694.83 L810.50,694.79 L811.00,694.76 L811.50,694.72 L812.00,694.69 L812.50,694.65 L813.00,694.62 L813.50,694.59 L814.00,694.56 L814.50,694.52 L815.00,694.49 L815.50,694.46 L816.00,694.43 L816.50,694.40 L817.00,694.37 L817.50,694.34 L818.00,694.32 L818.50,694.29 L819.00,694.26 L819.50,694.24 L820.00,694.21 L820.50,694.18 L821.00,694.16 L821.50,694.14 L822.00,694.11 L822.50,694.09 L823.00,694.07 L823.50,694.05 L824.00,694.03 L824.50,694.01 L825.00,693.99 L825.50,693.97 L826.00,693.95 L826.50,693.93 L827.00,693.91 L827.50,693.90 L828.00,693.88 L828.50,693.87 L829.00,693.85 L829.50,693.83 L830.00,693.82 L830.50,693.81 L831.00,693.79 L831.50,693.78 L832.00,693.77 L832.50,693.76 L833.00,693.74 L833.50,693.73 L834.00,693.72 L834.50,693.71 L835.00,693.70 L835.50,693.69 L836.00,693.68 L836.50,693.67 L837.00,693.67 L837.50,693.66 L838.00,693.65 L838.50,693.64 L839.00,693.63 L839.50,693.63 L840.00,693.62 L840.50,693.62 L841.00,693.61 L841.50,693.60 L842.00,693.60 L842.50,693.59 L843.00,693.59 L843.50,693.58 L844.00,693.58 L844.50,693.57 L845.00,693.57" fill="none" stroke="#e010e0" stroke-width="1.80" stroke-linejoin="round" stroke-linecap="round"/>
<path d="M735.00,694.70 L735.50,694.65 L736.00,694.59 L736.50,694.54 L737.00,694.48 L737.50,694.42 L738.00,694.36 L738.50,694.30 L739.00,694.24 L739.50,694.18 L740.00,694.11 L740.50,694.05 L741.00,693.98 L741.50,693.91 L742.00,693.83 L742.50,693.76 L743.00,693.68 L743.50,693.60 L744.00,693.52 L744.50,693.44 L745.00,693.36 L745.50,693.27 L746.00,693.18 L746.50,693.09 L747.00,692.99 L747.50,692.89 L748.00,692.79 L748.50,692.69 L749.00,692.58 L749.50,692.47 L750.00,692.35 L750.50,692.23 L751.00,692.11 L751.50,691.98 L752.00,691.85 L752.50,691.71 L753.00,691.57 L753.50,691.42 L754.00,691.26 L754.50,691.10 L755.00,690.93 L755.50,690.76 L756.00,690.57 L756.50,690.38 L757.00,690.17 L757.50,689.96 L758.00,689.73 L758.50,689.49 L759.00,689.23 L759.50,688.96 L760.00,688.67 L760.50,688.36 L761.00,688.02 L761.50,687.67 L762.00,687.29 L762.50,686.88 L763.00,686.44 L763.50,685.97 L764.00,685.45 L764.50,684.90 L765.00,684.30 L765.50,683.66 L766.00,682.96 L766.50,682.20 L767.00,681.38 L767.50,680.49 L768.00,679.52 L768.50,678.48 L769.00,677.35 L769.50,676.13 L770.00,674.80 L770.50,673.38 L771.00,671.84 L771.50,670.17 L772.00,668.38 L772.50,666.46 L773.00,664.39 L773.50,662.18 L774.00,659.81 L774.50,657.27 L775.00,654.57 L775.50,651.69 L776.00,648.63 L776.50,645.38 L777.00,641.94 L777.50,638.31 L778.00,634.47 L778.50,630.44 L779.00,626.21 L779.50,621.78 L780.00,617.15 L780.50,612.33 L781.00,607.31 L781.50,602.11 L782.00,596.73 L782.50,591.17 L783.00,585.46 L783.50,579.60 L784.00,573.61 L784.50,567.51 L785.00,561.30 L785.50,555.02 L786.00,548.67 L786.50,542.30 L787.00,535.92 L787.50,529.57 L788.00,523.26 L788.50,517.05 L789.00,510.95 L789.50,505.02 L790.00,499.28 L790.50,493.78 L791.00,488.56 L791.50,483.66 L792.00,479.12 L792.50,474.99 L793.00,471.30 L793.50,468.09 L794.00,465.40 L794.50,463.24 L795.00,461.66 L795.50,460.66 L796.00,460.25 L796.50,460.44 L797.00,461.23 L797.50,462.60 L798.00,464.54 L798.50,467.03 L799.00,470.03 L799.50,473.51 L800.00,477.44 L800.50,481.77 L801.00,486.47 L801.50,491.49 L802.00,496.79 L802.50,502.34 L803.00,508.08 L803.50,513.99 L804.00,520.02 L804.50,526.14 L805.00,532.32 L805.50,538.53 L806.00,544.74 L806.50,550.91 L807.00,557.04 L807.50,563.09 L808.00,569.05 L808.50,574.89 L809.00,580.61 L809.50,586.18 L810.00,591.60 L810.50,596.86 L811.00,601.94 L811.50,606.84 L812.00,611.55 L812.50,616.07 L813.00,620.40 L813.50,624.53 L814.00,628.46 L814.50,632.20 L815.00,635.75 L815.50,639.11 L816.00,642.28 L816.50,645.26 L817.00,648.07 L817.50,650.71 L818.00,653.18 L818.50,655.49 L819.00,657.65 L819.50,659.66 L820.00,661.53 L820.50,663.27 L821.00,664.89 L821.50,666.39 L822.00,667.78 L822.50,669.06 L823.00,670.25 L823.50,671.35 L824.00,672.36 L824.50,673.30 L825.00,674.16 L825.50,674.96 L826.00,675.70 L826.50,676.38 L827.00,677.01 L827.50,677.59 L828.00,678.12 L828.50,678.62 L829.00,679.08 L829.50,679.51 L830.00,679.90 L830.50,680.27 L831.00,680.62 L831.50,680.94 L832.00,681.24 L832.50,681.52 L833.00,681.79 L833.50,682.04 L834.00,682.28 L834.50,682.50 L835.00,682.71 L835.50,682.91 L836.00,683.10 L836.50,683.29 L837.00,683.46 L837.50,683.63 L838.00,683.79 L838.50,683.94 L839.00,684.08 L839.50,684.23 L840.00,684.36 L840.50,684.49 L841.00,684.62 L841.50,684.74 L842.00,684.86 L842.50,684.97 L843.00,685.08 L843.50,685.19 L844.00,685.30 L844.50,685.40 L845.00,685.49 L845.50,685.59 L846.00,685.68 L846.50,685.77 L847.00,685.86 L847.50,685.94 L848.00,686.03 L848.50,686.11 L849.00,686.18 L849.50,686.26 L850.00,686.33 L850.50,686.41 L851.00,686.48 L851.50,686.55 L852.00,686.61 L852.50,686.68 L853.00,686.74 L853.50,686.80 L854.00,686.86 L854.50,686.92 L855.00,686.98 L855.50,687.04 L856.00,687.09 L856.50,687.15 L857.00,687.20 L857.50,687.25 L858.00,687.30 L858.50,687.35 L859.00,687.40 L859.50,687.44 L860.00,687.49" fill="none" stroke="#0a8585" stroke-width="1.90" stroke-linejoin="round" stroke-linecap="round"/>
<path d="M880.00,688.73 L880.50,688.69 L881.00,688.65 L881.50,688.61 L882.00,688.56 L882.50,688.52 L883.00,688.47 L883.50,688.42 L884.00,688.37 L884.50,688.32 L885.00,688.27 L885.50,688.21 L886.00,688.16 L886.50,688.10 L887.00,688.04 L887.50,687.98 L888.00,687.92 L888.50,687.85 L889.00,687.79 L889.50,687.72 L890.00,687.65 L890.50,687.57 L891.00,687.50 L891.50,687.42 L892.00,687.34 L892.50,687.25 L893.00,687.17 L893.50,687.07 L894.00,686.98 L894.50,686.88 L895.00,686.78 L895.50,686.67 L896.00,686.56 L896.50,686.45 L897.00,686.32 L897.50,686.20 L898.00,686.06 L898.50,685.92 L899.00,685.77 L899.50,685.61 L900.00,685.44 L900.50,685.26 L901.00,685.07 L901.50,684.87 L902.00,684.65 L902.50,684.41 L903.00,684.16 L903.50,683.88 L904.00,683.59 L904.50,683.27 L905.00,682.92 L905.50,682.53 L906.00,682.12 L906.50,681.67 L907.00,681.17 L907.50,680.63 L908.00,680.03 L908.50,679.38 L909.00,678.67 L909.50,677.89 L910.00,677.03 L910.50,676.10 L911.00,675.07 L911.50,673.96 L912.00,672.74 L912.50,671.42 L913.00,669.98 L913.50,668.41 L914.00,666.72 L914.50,664.89 L915.00,662.92 L915.50,660.79 L916.00,658.51 L916.50,656.06 L917.00,653.45 L917.50,650.67 L918.00,647.71 L918.50,644.58 L919.00,641.27 L919.50,637.78 L920.00,634.11 L920.50,630.28 L921.00,626.27 L921.50,622.11 L922.00,617.79 L922.50,613.34 L923.00,608.75 L923.50,604.05 L924.00,599.26 L924.50,594.38 L925.00,589.45 L925.50,584.49 L926.00,579.52 L926.50,574.57 L927.00,569.68 L927.50,564.88 L928.00,560.20 L928.50,555.69 L929.00,551.38 L929.50,547.31 L930.00,543.54 L930.50,540.09 L931.00,537.01 L931.50,534.35 L932.00,532.13 L932.50,530.39 L933.00,529.16 L933.50,528.44 L934.00,528.26 L934.50,528.61 L935.00,529.50 L935.50,530.89 L936.00,532.79 L936.50,535.14 L937.00,537.93 L937.50,541.12 L938.00,544.66 L938.50,548.52 L939.00,552.65 L939.50,557.01 L940.00,561.55 L940.50,566.24 L941.00,571.05 L941.50,575.93 L942.00,580.85 L942.50,585.78 L943.00,590.70 L943.50,595.58 L944.00,600.39 L944.50,605.12 L945.00,609.74 L945.50,614.25 L946.00,618.62 L946.50,622.85 L947.00,626.92 L947.50,630.83 L948.00,634.57 L948.50,638.14 L949.00,641.53 L949.50,644.75 L950.00,647.79 L950.50,650.66 L951.00,653.35 L951.50,655.87 L952.00,658.23 L952.50,660.43 L953.00,662.48 L953.50,664.38 L954.00,666.14 L954.50,667.77 L955.00,669.26 L955.50,670.64 L956.00,671.91 L956.50,673.08 L957.00,674.14 L957.50,675.12 L958.00,676.01 L958.50,676.82 L959.00,677.57 L959.50,678.25 L960.00,678.87 L960.50,679.43 L961.00,679.95 L961.50,680.42 L962.00,680.86 L962.50,681.25 L963.00,681.62 L963.50,681.95 L964.00,682.26 L964.50,682.54 L965.00,682.80 L965.50,683.04 L966.00,683.27 L966.50,683.48 L967.00,683.68 L967.50,683.86 L968.00,684.03 L968.50,684.19 L969.00,684.35 L969.50,684.49 L970.00,684.63 L970.50,684.76 L971.00,684.88 L971.50,685.00 L972.00,685.12 L972.50,685.23 L973.00,685.33 L973.50,685.43 L974.00,685.52 L974.50,685.62 L975.00,685.71 L975.50,685.79 L976.00,685.87 L976.50,685.95 L977.00,686.03 L977.50,686.11 L978.00,686.18 L978.50,686.25 L979.00,686.32 L979.50,686.38 L980.00,686.45 L980.50,686.51 L981.00,686.57 L981.50,686.63 L982.00,686.68 L982.50,686.74 L983.00,686.79 L983.50,686.84 L984.00,686.89 L984.50,686.94 L985.00,686.99 L985.50,687.04 L986.00,687.08 L986.50,687.12 L987.00,687.17 L987.50,687.21 L988.00,687.25 L988.50,687.29 L989.00,687.33 L989.50,687.36 L990.00,687.40 L990.50,687.44 L991.00,687.47 L991.50,687.50 L992.00,687.54 L992.50,687.57 L993.00,687.60 L993.50,687.63 L994.00,687.66 L994.50,687.69 L995.00,687.72 L995.50,687.75 L996.00,687.78 L996.50,687.80 L997.00,687.83 L997.50,687.85 L998.00,687.88 L998.50,687.90 L999.00,687.93 L999.50,687.95 L1000.00,687.97 L1000.50,687.99 L1001.00,688.02 L1001.50,688.04 L1002.00,688.06 L1002.50,688.08 L1003.00,688.10 L1003.50,688.12 L1004.00,688.14 L1004.50,688.16 L1005.00,688.17 L1005.50,688.19 L1006.00,688.21 L1006.50,688.23 L1007.00,688.24 L1007.50,688.26 L1008.00,688.28 L1008.50,688.29 L1009.00,688.31 L1009.50,688.32 L1010.00,688.34 L1010.50,688.35 L1011.00,688.37 L1011.50,688.38 L1012.00,688.40 L1012.50,688.41 L1013.00,688.42 L1013.50,688.44 L1014.00,688.45 L1014.50,688.46 L1015.00,688.48 L1015.50,688.49 L1016.00,688.50 L1016.50,688.51 L1017.00,688.52 L1017.50,688.54 L1018.00,688.55 L1018.50,688.56 L1019.00,688.57 L1019.50,688.58 L1020.00,688.59 L1020.50,688.60 L1021.00,688.61 L1021.50,688.62 L1022.00,688.63 L1022.50,688.64 L1023.00,688.65 L1023.50,688.66 L1024.00,688.67 L1024.50,688.68 L1025.00,688.69 L1025.50,688.69 L1026.00,688.70 L1026.50,688.71 L1027.00,688.72 L1027.50,688.73 L1028.00,688.74 L1028.50,688.74 L1029.00,688.75 L1029.50,688.76 L1030.00,688.77 L1030.50,688.77 L1031.00,688.78 L1031.50,688.79 L1032.00,688.80 L1032.50,688.80 L1033.00,688.81 L1033.50,688.82 L1034.00,688.82 L1034.50,688.83 L1035.00,688.84 L1035.50,688.84 L1036.00,688.85 L1036.50,688.86 L1037.00,688.86 L1037.50,688.87 L1038.00,688.87 L1038.50,688.88 L1039.00,688.89 L1039.50,688.89 L1040.00,688.90 L1040.50,688.90 L1041.00,688.91 L1041.50,688.91 L1042.00,688.92 L1042.50,688.92 L1043.00,688.93 L1043.50,688.93 L1044.00,688.94 L1044.50,688.94 L1045.00,688.95 L1045.50,688.95 L1046.00,688.96 L1046.50,688.96 L1047.00,688.97 L1047.50,688.97 L1048.00,688.98 L1048.50,688.98 L1049.00,688.99 L1049.50,688.99 L1050.00,689.00 L1050.50,689.00 L1051.00,689.00 L1051.50,689.01 L1052.00,689.01 L1052.50,689.02 L1053.00,689.02 L1053.50,689.02 L1054.00,689.03 L1054.50,689.03 L1055.00,689.04 L1055.50,689.04 L1056.00,689.04 L1056.50,689.05 L1057.00,689.05 L1057.50,689.05 L1058.00,689.06 L1058.50,689.06 L1059.00,689.06 L1059.50,689.07 L1060.00,689.07 L1060.50,689.08 L1061.00,689.08 L1061.50,689.08 L1062.00,689.08 L1062.50,689.09 L1063.00,689.09 L1063.50,689.09 L1064.00,689.10 L1064.50,689.10 L1065.00,689.10 L1065.50,689.11 L1066.00,689.11 L1066.50,689.11 L1067.00,689.12 L1067.50,689.12 L1068.00,689.12 L1068.50,689.12 L1069.00,689.13 L1069.50,689.13 L1070.00,689.13 L1070.50,689.13 L1071.00,689.14 L1071.50,689.14 L1072.00,689.14 L1072.50,689.15 L1073.00,689.15 L1073.50,689.15 L1074.00,689.15 L1074.50,689.16 L1075.00,689.16 L1075.50,689.16 L1076.00,689.16 L1076.50,689.16 L1077.00,689.17 L1077.50,689.17 L1078.00,689.17 L1078.50,689.17 L1079.00,689.18 L1079.50,689.18 L1080.00,689.18 L1080.50,689.18 L1081.00,689.18 L1081.50,689.19 L1082.00,689.19" fill="none" stroke="#e010e0" stroke-width="1.90" stroke-linejoin="round" stroke-linecap="round"/>
</g>
<rect x="620.50" y="417.00" width="461.50" height="331.30" fill="none" stroke="#000" stroke-width="2.20"/>
<line x1="621.00" y1="748.30" x2="621.00" y2="755.30" stroke="#000" stroke-width="1.80"/>
<line x1="736.25" y1="748.30" x2="736.25" y2="755.30" stroke="#000" stroke-width="1.80"/>
<line x1="851.50" y1="748.30" x2="851.50" y2="755.30" stroke="#000" stroke-width="1.80"/>
<line x1="966.75" y1="748.30" x2="966.75" y2="755.30" stroke="#000" stroke-width="1.80"/>
<line x1="1082.00" y1="748.30" x2="1082.00" y2="755.30" stroke="#000" stroke-width="1.80"/>
<line x1="678.62" y1="748.30" x2="678.62" y2="752.30" stroke="#000" stroke-width="1.80"/>
<line x1="793.88" y1="748.30" x2="793.88" y2="752.30" stroke="#000" stroke-width="1.80"/>
<line x1="909.12" y1="748.30" x2="909.12" y2="752.30" stroke="#000" stroke-width="1.80"/>
<line x1="1024.38" y1="748.30" x2="1024.38" y2="752.30" stroke="#000" stroke-width="1.80"/>
<line x1="754.80" y1="444.80" x2="788.93" y2="457.38" stroke="#000" stroke-width="1.30"/>
<path d="M795.50,459.80 L786.89,460.04 L789.10,454.03 Z" fill="#000"/>
<line x1="954.60" y1="508.10" x2="940.92" y2="522.52" stroke="#000" stroke-width="1.30"/>
<path d="M936.10,527.60 L939.28,519.59 L943.93,524.00 Z" fill="#000"/>
<text transform="translate(78.25,372.37) scale(1.0938,1)" font-family="Liberation Sans, sans-serif" font-size="17.88" fill="#000">0</text>
<text transform="translate(142.59,372.37) scale(1.0938,1)" font-family="Liberation Sans, sans-serif" font-size="17.88" fill="#000">200</text>
<text transform="translate(218.17,372.37) scale(1.0938,1)" font-family="Liberation Sans, sans-serif" font-size="17.88" fill="#000">400</text>
<text transform="translate(293.22,372.37) scale(1.0938,1)" font-family="Liberation Sans, sans-serif" font-size="17.88" fill="#000">600</text>
<text transform="translate(368.61,372.37) scale(1.0938,1)" font-family="Liberation Sans, sans-serif" font-size="17.88" fill="#000">800</text>
<text transform="translate(438.18,372.37) scale(1.0938,1)" font-family="Liberation Sans, sans-serif" font-size="17.88" fill="#000">1000</text>
<text transform="translate(513.50,372.37) scale(1.0938,1)" font-family="Liberation Sans, sans-serif" font-size="17.88" fill="#000">1200</text>
<text transform="translate(214.38,397.26) scale(1.2115,1)" font-family="'Liberation Sans', sans-serif" font-weight="normal" font-size="17.43" fill="#000" stroke="#000" stroke-width="0.45" stroke-linejoin="round">Binding Energy (eV)</text>
<text transform="translate(55.84,248.39) rotate(-90) scale(0.9941,1)" font-family="'Liberation Sans', sans-serif" font-weight="normal" font-size="20.92" fill="#000" stroke="#000" stroke-width="0.50" stroke-linejoin="round">Counts</text>
<text transform="translate(55.49,176.63) rotate(-90) scale(0.9891,1)" font-family="'Liberation Sans', sans-serif" font-weight="normal" font-size="19.46" fill="#000" stroke="#000" stroke-width="0.35" stroke-linejoin="round">(s</text>
<text transform="translate(43.67,159.20) rotate(-90) scale(1.0792,1)" font-family="'Liberation Sans', sans-serif" font-weight="normal" font-size="8.80" fill="#000" stroke="#000" stroke-width="0.25" stroke-linejoin="round">-1</text>
<text transform="translate(55.49,148.04) rotate(-90) scale(0.7852,1)" font-family="'Liberation Sans', sans-serif" font-weight="normal" font-size="19.46" fill="#000" stroke="#000" stroke-width="0.35" stroke-linejoin="round">)</text>
<text transform="translate(24.97,58.01) scale(1.0441,1)" font-family="'Liberation Serif', serif" font-weight="normal" font-size="47.93" fill="#000" stroke="#000" stroke-width="0.20" stroke-linejoin="round">(a)</text>
<text transform="translate(402.41,47.80) scale(1.1626,1)" font-family="'Liberation Sans', sans-serif" font-weight="normal" font-size="16.13" fill="#000" stroke="#000" stroke-width="0.50" stroke-linejoin="round">Cu2p3</text>
<text transform="translate(238.18,199.68) scale(1.0890,1)" font-family="'Liberation Sans', sans-serif" font-weight="normal" font-size="16.82" fill="#000" stroke="#000" stroke-width="0.50" stroke-linejoin="round">O1s</text>
<text transform="translate(162.26,230.58) scale(1.1344,1)" font-family="'Liberation Sans', sans-serif" font-weight="normal" font-size="16.54" fill="#000" stroke="#000" stroke-width="0.50" stroke-linejoin="round">C1s</text>
<text transform="translate(216.70,263.69) scale(1.2729,1)" font-family="'Liberation Sans', sans-serif" font-weight="normal" font-size="15.23" fill="#000" stroke="#000" stroke-width="0.50" stroke-linejoin="round">Ag3d</text>
<text transform="translate(659.99,377.62) scale(1.0867,1)" font-family="Liberation Sans, sans-serif" font-size="18.37" fill="#000">930</text>
<text transform="translate(775.46,377.62) scale(1.0867,1)" font-family="Liberation Sans, sans-serif" font-size="18.37" fill="#000">940</text>
<text transform="translate(890.94,377.62) scale(1.0867,1)" font-family="Liberation Sans, sans-serif" font-size="18.37" fill="#000">950</text>
<text transform="translate(1006.41,377.62) scale(1.0867,1)" font-family="Liberation Sans, sans-serif" font-size="18.37" fill="#000">960</text>
<text transform="translate(750.50,402.44) scale(1.1990,1)" font-family="'Liberation Sans', sans-serif" font-weight="normal" font-size="18.50" fill="#000" stroke="#000" stroke-width="0.45" stroke-linejoin="round">Binding Energy (eV)</text>
<text transform="translate(586.01,266.09) rotate(-90) scale(1.0582,1)" font-family="'Liberation Sans', sans-serif" font-weight="normal" font-size="20.54" fill="#000" stroke="#000" stroke-width="0.45" stroke-linejoin="round">Intensity (a.u.)</text>
<text transform="translate(550.13,60.04) scale(1.0063,1)" font-family="'Liberation Serif', serif" font-weight="bold" font-size="45.95" fill="#000">(b)</text>
<text transform="translate(1006.35,55.25) scale(1.1642,1)" font-family="'Liberation Sans', sans-serif" font-weight="normal" font-size="24.09" fill="#000" stroke="#000" stroke-width="0.90" stroke-linejoin="round">Cu2p</text>
<text transform="translate(638.26,50.68) scale(1.1711,1)" font-family="'Liberation Sans', sans-serif" font-weight="normal" font-size="18.67" fill="#000" stroke="#000" stroke-width="0.50" stroke-linejoin="round">Cu2p</text>
<text transform="translate(690.58,58.68) scale(1.2025,1)" font-family="'Liberation Sans', sans-serif" font-weight="normal" font-size="9.86" fill="#000" stroke="#000" stroke-width="0.25" stroke-linejoin="round">3/2</text>
<text transform="translate(736.13,57.92) scale(1.1450,1)" font-family="'Liberation Sans', sans-serif" font-weight="normal" font-size="17.81" fill="#000" stroke="#000" stroke-width="0.80" stroke-linejoin="round">932.8 eV</text>
<text transform="translate(876.86,116.96) scale(1.1169,1)" font-family="'Liberation Sans', sans-serif" font-weight="normal" font-size="17.79" fill="#000" stroke="#000" stroke-width="0.50" stroke-linejoin="round">Cu2p</text>
<text transform="translate(925.40,124.38) scale(1.2008,1)" font-family="'Liberation Sans', sans-serif" font-weight="normal" font-size="9.18" fill="#000" stroke="#000" stroke-width="0.25" stroke-linejoin="round">1/2</text>
<text transform="translate(956.93,111.62) scale(1.1360,1)" font-family="'Liberation Sans', sans-serif" font-weight="normal" font-size="17.95" fill="#000" stroke="#000" stroke-width="0.80" stroke-linejoin="round">952.6 eV</text>
<text transform="translate(68.01,771.91) scale(1.0538,1)" font-family="Liberation Sans, sans-serif" font-size="18.80" fill="#000">526</text>
<text transform="translate(170.21,771.91) scale(1.0538,1)" font-family="Liberation Sans, sans-serif" font-size="18.80" fill="#000">528</text>
<text transform="translate(272.36,771.91) scale(1.0538,1)" font-family="Liberation Sans, sans-serif" font-size="18.80" fill="#000">530</text>
<text transform="translate(374.68,771.91) scale(1.0538,1)" font-family="Liberation Sans, sans-serif" font-size="18.80" fill="#000">532</text>
<text transform="translate(476.66,771.91) scale(1.0538,1)" font-family="Liberation Sans, sans-serif" font-size="18.80" fill="#000">534</text>
<text transform="translate(215.50,802.34) scale(1.1947,1)" font-family="'Liberation Sans', sans-serif" font-weight="normal" font-size="18.50" fill="#000" stroke="#000" stroke-width="0.45" stroke-linejoin="round">Binding Energy (eV)</text>
<text transform="translate(56.37,658.03) rotate(-90) scale(1.0714,1)" font-family="'Liberation Sans', sans-serif" font-weight="normal" font-size="20.75" fill="#000" stroke="#000" stroke-width="0.45" stroke-linejoin="round">Intensity (a.u.)</text>
<text transform="translate(28.02,446.40) scale(0.9984,1)" font-family="'Liberation Serif', serif" font-weight="bold" font-size="46.61" fill="#000">(c)</text>
<text transform="translate(476.58,449.17) scale(1.0725,1)" font-family="'Liberation Sans', sans-serif" font-weight="normal" font-size="25.51" fill="#000" stroke="#000" stroke-width="0.75" stroke-linejoin="round">O1s</text>
<text transform="translate(145.32,444.06) scale(1.1235,1)" font-family="'Liberation Sans', sans-serif" font-weight="normal" font-size="19.22" fill="#000" stroke="#000" stroke-width="0.50" stroke-linejoin="round">O1s Scan A</text>
<text transform="translate(137.69,475.82) scale(1.1414,1)" font-family="'Liberation Sans', sans-serif" font-weight="normal" font-size="17.81" fill="#000" stroke="#000" stroke-width="0.80" stroke-linejoin="round">529.8 eV</text>
<text transform="translate(342.13,551.25) scale(1.1042,1)" font-family="'Liberation Sans', sans-serif" font-weight="normal" font-size="19.51" fill="#000" stroke="#000" stroke-width="0.50" stroke-linejoin="round">O1s Scan A</text>
<text transform="translate(389.69,578.41) scale(1.0948,1)" font-family="'Liberation Sans', sans-serif" font-weight="normal" font-size="18.52" fill="#000" stroke="#000" stroke-width="0.80" stroke-linejoin="round">531.4eV</text>
<text transform="translate(609.38,769.56) scale(1.0274,1)" font-family="Liberation Sans, sans-serif" font-size="13.57" fill="#000">360</text>
<text transform="translate(724.64,769.56) scale(1.0274,1)" font-family="Liberation Sans, sans-serif" font-size="13.57" fill="#000">365</text>
<text transform="translate(839.88,769.56) scale(1.0274,1)" font-family="Liberation Sans, sans-serif" font-size="13.57" fill="#000">370</text>
<text transform="translate(955.14,769.56) scale(1.0274,1)" font-family="Liberation Sans, sans-serif" font-size="13.57" fill="#000">375</text>
<text transform="translate(1070.38,769.56) scale(1.0274,1)" font-family="Liberation Sans, sans-serif" font-size="13.57" fill="#000">380</text>
<text transform="translate(752.69,799.03) scale(1.1670,1)" font-family="'Liberation Sans', sans-serif" font-weight="normal" font-size="19.03" fill="#000" stroke="#000" stroke-width="0.45" stroke-linejoin="round">Binding energy (eV)</text>
<text transform="translate(591.86,660.03) rotate(-90) scale(1.0924,1)" font-family="'Liberation Sans', sans-serif" font-weight="normal" font-size="20.32" fill="#000" stroke="#000" stroke-width="0.45" stroke-linejoin="round">Intensity (a.u.)</text>
<text transform="translate(550.02,451.94) scale(1.0140,1)" font-family="'Liberation Serif', serif" font-weight="bold" font-size="45.95" fill="#000">(d)</text>
<text transform="translate(1007.45,446.99) scale(1.1838,1)" font-family="'Liberation Sans', sans-serif" font-weight="normal" font-size="24.50" fill="#000" stroke="#000" stroke-width="0.65" stroke-linejoin="round">Ag3d</text>
<text transform="translate(729.10,436.68) scale(1.1686,1)" font-family="'Liberation Sans', sans-serif" font-weight="normal" font-size="18.66" fill="#000" stroke="#000" stroke-width="0.50" stroke-linejoin="round">Ag3d</text>
<text transform="translate(780.64,444.37) scale(1.1563,1)" font-family="'Liberation Sans', sans-serif" font-weight="normal" font-size="10.54" fill="#000" stroke="#000" stroke-width="0.25" stroke-linejoin="round">5/2</text>
<text transform="translate(805.53,450.01) scale(1.0806,1)" font-family="'Liberation Sans', sans-serif" font-weight="normal" font-size="18.94" fill="#000" stroke="#000" stroke-width="0.80" stroke-linejoin="round">367.6 eV</text>
<text transform="translate(932.10,504.91) scale(1.1488,1)" font-family="'Liberation Sans', sans-serif" font-weight="normal" font-size="18.98" fill="#000" stroke="#000" stroke-width="0.50" stroke-linejoin="round">Ag3d</text>
<text transform="translate(983.67,512.77) scale(1.1394,1)" font-family="'Liberation Sans', sans-serif" font-weight="normal" font-size="10.68" fill="#000" stroke="#000" stroke-width="0.25" stroke-linejoin="round">3/2</text>
<text transform="translate(963.54,537.11) scale(1.0753,1)" font-family="'Liberation Sans', sans-serif" font-weight="normal" font-size="18.94" fill="#000" stroke="#000" stroke-width="0.80" stroke-linejoin="round">373.6 eV</text>
</g>
</svg></body></html>
